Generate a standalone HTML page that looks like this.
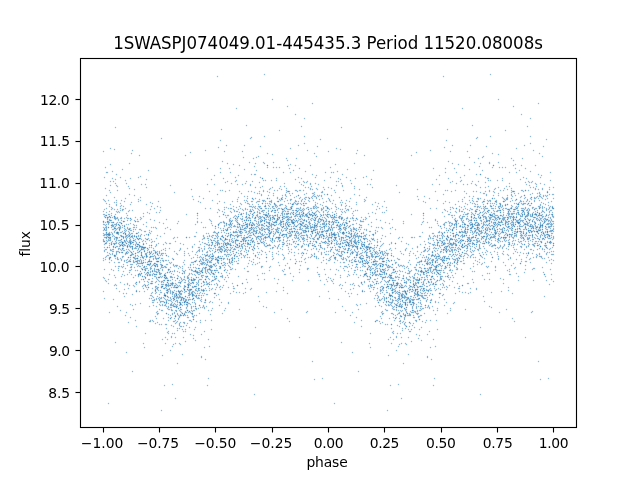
<!DOCTYPE html>
<html lang="en"><head><meta charset="utf-8"><title>1SWASPJ074049.01-445435.3 Period 11520.08008s</title>
<style>html,body{margin:0;padding:0;background:#fff;width:640px;height:480px;overflow:hidden}svg{display:block}text{font-family:"DejaVu Sans","Liberation Sans",sans-serif;fill:#000}.t{font-size:13.889px}.h{font-size:16.667px}</style></head><body>
<svg width="640" height="480" viewBox="0 0 640 480">
<rect width="640" height="480" fill="#fff"/>
<g fill="none" stroke="#1f77b4" stroke-opacity=".5" stroke-width="1.389" stroke-linecap="round">
<path d="M443.5 76.5h0m-171 23h0m241 7h0m-209 12h0m37 9h0m106 2h0m58 1h0m-254 7h0m-31 3h0m84 3h0m166 2h0m73 1h0m-338 4h0m225 0h0m-327 1h0m225 0h0m88 1h0m-102 1h0m225 0h0m-267 1h0m-87 1h0m73 1h0m225 0h0m-227 1h0m192 4h0m-319 2h0m135 0h0m90 0h0m135 0h0m-194 2h0m15 0h0m225 0h0m-259 2h0m-47 1h0m60 0h0m10 0h0m155 0h0m-332 1h0m225 0h0m-241 3h0m225 0h0m125 0h0m60 0h0m-204 2h0m30 0h0m4 3h0m-221 3h0m140 0h0m85 0h0m140 0h0m60 0h0m-437 1h0m190 0h0m35 0h0m140 0h0m50 0h0m-222 1h0m225 0h0m-247 1h0m225 0h0m-302 1h0m30 0h0m5 0h0m125 0h0m65 0h0m35 0h0m-357 1h0m60 0h0m80 0h0m-122 1h0m360 0h0m-342 1h0m-17 1h0m150 0h0m75 0h0m150 0h0m-192 1h0m5 0h0m100 0h0m90 0h0m35 0h0m-322 1h0m75 0h0m5 0h0m145 0h0m10 0h0m45 0h0m25 0h0m-277 1h0m15 0h0m25 0h0m185 0h0m20 0h0m20 0h0m10 0h0m-237 1h0m35 0h0m190 0h0m-252 1h0m30 0h0m195 0h0m30 0h0m25 0h0m-322 1h0m110 0h0m225 0h0m-267 1h0m5 0h0m225 0h0m30 0h0m-227 1h0m155 0h0m70 0h0m-237 1h0m5 0h0m5 0h0m50 0h0m165 0h0m5 0h0m5 0h0m-272 1h0m30 0h0m5 0h0m5 0h0m120 0h0m65 0h0m30 0h0m10 0h0m-297 1h0m45 0h0m20 0h0m160 0h0m45 0h0m20 0h0m-387 1h0m140 0h0m10 0h0m5 0h0m70 0h0m125 0h0m15 0h0m10 0h0m5 0h0m-382 1h0m20 0h0m40 0h0m60 0h0m5 0h0m15 0h0m20 0h0m125 0h0m35 0h0m15 0h0m10 0h0m5 0h0m15 0h0m20 0h0m-407 1h0m15 0h0m125 0h0m15 0h0m85 0h0m140 0h0m45 0h0m-272 1h0m5 0h0m200 0h0m20 0h0m5 0h0m15 0h0m10 0h0m-272 1h0m30 0h0m10 0h0m5 0h0m75 0h0m95 0h0m10 0h0m30 0h0m10 0h0m5 0h0m5 0h0m-262 1h0m10 0h0m5 0h0m5 0h0m30 0h0m175 0h0m10 0h0m5 0h0m25 0h0m10 0h0m-417 1h0m110 0h0m20 0h0m5 0h0m15 0h0m40 0h0m165 0h0m5 0h0m15 0h0m20 0h0m20 0h0m-427 1h0m115 0h0m10 0h0m40 0h0m15 0h0m45 0h0m50 0h0m75 0h0m40 0h0m10 0h0m-357 1h0m120 0h0m5 0h0m5 0h0m30 0h0m65 0h0m120 0h0m40 0h0m10 0h0m-432 1h0m5 0h0m120 0h0m5 0h0m5 0h0m25 0h0m5 0h0m5 0h0m15 0h0m20 0h0m20 0h0m5 0h0m120 0h0m5 0h0m5 0h0m25 0h0m5 0h0m20 0h0m-407 1h0m40 0h0m90 0h0m25 0h0m20 0h0m5 0h0m25 0h0m30 0h0m90 0h0m30 0h0m25 0h0m50 0h0m-447 1h0m15 0h0m10 0h0m140 0h0m15 0h0m5 0h0m30 0h0m5 0h0m5 0h0m25 0h0m130 0h0m25 0h0m5 0h0m10 0h0m5 0h0m15 0h0m-437 1h0m50 0h0m75 0h0m15 0h0m20 0h0m25 0h0m5 0h0m5 0h0m155 0h0m15 0h0m20 0h0m50 0h0m-392 1h0m110 0h0m25 0h0m15 0h0m10 0h0m5 0h0m165 0h0m5 0h0m10 0h0m15 0h0m5 0h0m10 0h0m15 0h0m-287 1h0m5 0h0m20 0h0m5 0h0m5 0h0m10 0h0m5 0h0m25 0h0m140 0h0m10 0h0m15 0h0m20 0h0m10 0h0m5 0h0m5 0h0m10 0h0m10 0h0m-447 1h0m120 0h0m10 0h0m30 0h0m5 0h0m5 0h0m5 0h0m15 0h0m5 0h0m5 0h0m5 0h0m5 0h0m15 0h0m130 0h0m30 0h0m5 0h0m5 0h0m20 0h0m10 0h0m10 0h0m-397 1h0m95 0h0m35 0h0m10 0h0m5 0h0m175 0h0m15 0h0m5 0h0m5 0h0m5 0h0m5 0h0m15 0h0m30 0h0m10 0h0m-432 1h0m5 0h0m100 0h0m20 0h0m15 0h0m5 0h0m20 0h0m5 0h0m25 0h0m15 0h0m5 0h0m5 0h0m20 0h0m110 0h0m15 0h0m5 0h0m25 0h0m-402 1h0m10 0h0m125 0h0m5 0h0m5 0h0m5 0h0m10 0h0m5 0h0m5 0h0m35 0h0m20 0h0m140 0h0m10 0h0m10 0h0m5 0h0m20 0h0m20 0h0m-437 1h0m30 0h0m105 0h0m30 0h0m5 0h0m5 0h0m5 0h0m15 0h0m20 0h0m10 0h0m25 0h0m35 0h0m100 0h0m5 0h0m5 0h0m5 0h0m40 0h0m-437 1h0m20 0h0m80 0h0m20 0h0m5 0h0m15 0h0m5 0h0m5 0h0m10 0h0m10 0h0m35 0h0m20 0h0m20 0h0m5 0h0m20 0h0m55 0h0m20 0h0m15 0h0m10 0h0m25 0h0m15 0h0m-417 1h0m5 0h0m15 0h0m15 0h0m40 0h0m45 0h0m35 0h0m25 0h0m35 0h0m5 0h0m5 0h0m35 0h0m40 0h0m20 0h0m25 0h0m20 0h0m30 0h0m10 0h0m40 0h0m5 0h0m-442 1h0m35 0h0m55 0h0m20 0h0m45 0h0m10 0h0m5 0h0m5 0h0m5 0h0m40 0h0m5 0h0m10 0h0m25 0h0m75 0h0m10 0h0m15 0h0m5 0h0m15 0h0m10 0h0m5 0h0m5 0h0m-292 1h0m5 0h0m25 0h0m15 0h0m5 0h0m10 0h0m20 0h0m10 0h0m15 0h0m65 0h0m55 0h0m5 0h0m15 0h0m5 0h0m20 0h0m30 0h0m5 0h0m25 0h0m-437 1h0m125 0h0m10 0h0m10 0h0m5 0h0m10 0h0m15 0h0m25 0h0m5 0h0m5 0h0m10 0h0m5 0h0m5 0h0m10 0h0m100 0h0m10 0h0m10 0h0m5 0h0m25 0h0m5 0h0m5 0h0m15 0h0m15 0h0m5 0h0m5 0h0m-447 1h0m165 0h0m5 0h0m5 0h0m5 0h0m25 0h0m5 0h0m10 0h0m25 0h0m10 0h0m100 0h0m10 0h0m5 0h0m10 0h0m10 0h0m5 0h0m5 0h0m25 0h0m5 0h0m5 0h0m-427 1h0m120 0h0m35 0h0m15 0h0m5 0h0m5 0h0m10 0h0m5 0h0m15 0h0m5 0h0m10 0h0m130 0h0m5 0h0m20 0h0m15 0h0m25 0h0m15 0h0m5 0h0m-447 1h0m5 0h0m25 0h0m15 0h0m80 0h0m20 0h0m10 0h0m10 0h0m15 0h0m20 0h0m5 0h0m5 0h0m5 0h0m10 0h0m5 0h0m25 0h0m15 0h0m5 0h0m50 0h0m25 0h0m15 0h0m10 0h0m5 0h0m10 0h0m15 0h0m25 0h0m10 0h0m-442 1h0m10 0h0m5 0h0m5 0h0m5 0h0m115 0h0m5 0h0m5 0h0m5 0h0m10 0h0m10 0h0m5 0h0m10 0h0m20 0h0m10 0h0m5 0h0m10 0h0m15 0h0m95 0h0m25 0h0m5 0h0m10 0h0m5 0h0m5 0h0m5 0h0m5 0h0m10 0h0m20 0h0m-427 1h0m115 0h0m15 0h0m20 0h0m5 0h0m5 0h0m5 0h0m20 0h0m20 0h0m5 0h0m10 0h0m120 0h0m15 0h0m10 0h0m10 0h0m5 0h0m5 0h0m5 0h0m5 0h0m10 0h0m25 0h0m5 0h0m-442 1h0m10 0h0m15 0h0m115 0h0m5 0h0m35 0h0m20 0h0m10 0h0m15 0h0m10 0h0m5 0h0m5 0h0m25 0h0m95 0h0m5 0h0m20 0h0m35 0h0m10 0h0m10 0h0m-422 1h0m5 0h0m100 0h0m15 0h0m5 0h0m20 0h0m30 0h0m5 0h0m15 0h0m25 0h0m5 0h0m155 0h0m15 0h0m5 0h0m25 0h0m-447 1h0m5 0h0m5 0h0m5 0h0m75 0h0m25 0h0m15 0h0m10 0h0m5 0h0m5 0h0m15 0h0m25 0h0m5 0h0m20 0h0m10 0h0m15 0h0m95 0h0m15 0h0m20 0h0m5 0h0m10 0h0m5 0h0m5 0h0m15 0h0m5 0h0m5 0h0m5 0h0m10 0h0m-432 1h0m20 0h0m35 0h0m105 0h0m20 0h0m40 0h0m5 0h0m10 0h0m5 0h0m5 0h0m130 0h0m30 0h0m-407 1h0m5 0h0m105 0h0m20 0h0m10 0h0m15 0h0m5 0h0m15 0h0m40 0h0m10 0h0m40 0h0m70 0h0m15 0h0m5 0h0m10 0h0m20 0h0m15 0h0m5 0h0m20 0h0m15 0h0m-427 1h0m20 0h0m75 0h0m10 0h0m5 0h0m5 0h0m5 0h0m10 0h0m40 0h0m5 0h0m20 0h0m5 0h0m15 0h0m10 0h0m10 0h0m10 0h0m85 0h0m5 0h0m20 0h0m40 0h0m5 0h0m10 0h0m10 0h0m5 0h0m-422 1h0m5 0h0m10 0h0m65 0h0m15 0h0m20 0h0m10 0h0m10 0h0m10 0h0m5 0h0m50 0h0m15 0h0m10 0h0m5 0h0m5 0h0m5 0h0m70 0h0m20 0h0m10 0h0m10 0h0m10 0h0m10 0h0m60 0h0m-447 1h0m10 0h0m20 0h0m50 0h0m55 0h0m5 0h0m10 0h0m10 0h0m10 0h0m20 0h0m5 0h0m20 0h0m5 0h0m5 0h0m5 0h0m5 0h0m20 0h0m50 0h0m60 0h0m15 0h0m5 0h0m10 0h0m5 0h0m45 0h0m-442 1h0m5 0h0m15 0h0m10 0h0m65 0h0m10 0h0m20 0h0m10 0h0m35 0h0m25 0h0m35 0h0m10 0h0m5 0h0m10 0h0m75 0h0m20 0h0m10 0h0m60 0h0m20 0h0m-402 1h0m55 0h0m25 0h0m15 0h0m30 0h0m20 0h0m10 0h0m5 0h0m10 0h0m10 0h0m20 0h0m20 0h0m5 0h0m5 0h0m70 0h0m5 0h0m15 0h0m30 0h0m30 0h0m5 0h0m10 0h0m10 0h0m-442 1h0m10 0h0m10 0h0m105 0h0m10 0h0m5 0h0m10 0h0m5 0h0m5 0h0m10 0h0m65 0h0m5 0h0m5 0h0m5 0h0m80 0h0m15 0h0m5 0h0m10 0h0m15 0h0m10 0h0m20 0h0m15 0h0m-427 1h0m120 0h0m10 0h0m10 0h0m10 0h0m10 0h0m30 0h0m10 0h0m10 0h0m15 0h0m25 0h0m125 0h0m5 0h0m5 0h0m30 0h0m10 0h0m10 0h0m-432 1h0m5 0h0m5 0h0m20 0h0m15 0h0m60 0h0m5 0h0m45 0h0m55 0h0m10 0h0m5 0h0m5 0h0m15 0h0m5 0h0m35 0h0m85 0h0m10 0h0m55 0h0m10 0h0m-442 1h0m5 0h0m55 0h0m35 0h0m15 0h0m20 0h0m20 0h0m25 0h0m5 0h0m20 0h0m10 0h0m15 0h0m35 0h0m60 0h0m15 0h0m10 0h0m10 0h0m5 0h0m15 0h0m25 0h0m5 0h0m20 0h0m-397 1h0m70 0h0m5 0h0m5 0h0m10 0h0m10 0h0m5 0h0m5 0h0m35 0h0m15 0h0m40 0h0m25 0h0m20 0h0m50 0h0m5 0h0m15 0h0m10 0h0m5 0h0m5 0h0m45 0h0m5 0h0m10 0h0m-412 1h0m5 0h0m10 0h0m80 0h0m15 0h0m40 0h0m50 0h0m30 0h0m85 0h0m20 0h0m10 0h0m30 0h0m5 0h0m45 0h0m-432 1h0m10 0h0m130 0h0m25 0h0m30 0h0m30 0h0m15 0h0m15 0h0m115 0h0m20 0h0m5 0h0m20 0h0m-387 1h0m10 0h0m75 0h0m10 0h0m65 0h0m20 0h0m35 0h0m10 0h0m5 0h0m5 0h0m70 0h0m5 0h0m70 0h0m5 0h0m20 0h0m-427 1h0m15 0h0m10 0h0m25 0h0m35 0h0m20 0h0m10 0h0m15 0h0m5 0h0m70 0h0m25 0h0m20 0h0m10 0h0m50 0h0m30 0h0m20 0h0m5 0h0m55 0h0m-427 1h0m10 0h0m10 0h0m10 0h0m75 0h0m5 0h0m30 0h0m30 0h0m55 0h0m20 0h0m10 0h0m85 0h0m25 0h0m60 0h0m5 0h0m-432 1h0m30 0h0m25 0h0m60 0h0m5 0h0m100 0h0m20 0h0m20 0h0m35 0h0m20 0h0m20 0h0m-332 1h0m5 0h0m15 0h0m100 0h0m15 0h0m30 0h0m40 0h0m10 0h0m10 0h0m5 0h0m15 0h0m65 0h0m35 0h0m15 0h0m30 0h0m50 0h0m-437 1h0m5 0h0m5 0h0m5 0h0m10 0h0m10 0h0m5 0h0m40 0h0m10 0h0m15 0h0m15 0h0m10 0h0m45 0h0m30 0h0m20 0h0m10 0h0m5 0h0m10 0h0m55 0h0m25 0h0m25 0h0m-362 1h0m50 0h0m25 0h0m130 0h0m20 0h0m50 0h0m25 0h0m50 0h0m5 0h0m15 0h0m60 0h0m-427 1h0m20 0h0m20 0h0m5 0h0m20 0h0m25 0h0m5 0h0m5 0h0m15 0h0m20 0h0m25 0h0m10 0h0m60 0h0m15 0h0m15 0h0m5 0h0m5 0h0m5 0h0m45 0h0m25 0h0m10 0h0m5 0h0m25 0h0m10 0h0m45 0h0m-437 1h0m15 0h0m5 0h0m25 0h0m45 0h0m25 0h0m15 0h0m10 0h0m85 0h0m45 0h0m30 0h0m20 0h0m25 0h0m20 0h0m-357 1h0m15 0h0m15 0h0m15 0h0m40 0h0m5 0h0m5 0h0m10 0h0m135 0h0m5 0h0m5 0h0m5 0h0m15 0h0m45 0h0m5 0h0m5 0h0m15 0h0m35 0h0m-352 1h0m55 0h0m40 0h0m25 0h0m35 0h0m15 0h0m40 0h0m10 0h0m60 0h0m10 0h0m90 0h0m10 0h0m5 0h0m-432 1h0m25 0h0m75 0h0m10 0h0m5 0h0m10 0h0m25 0h0m25 0h0m45 0h0m5 0h0m35 0h0m10 0h0m60 0h0m5 0h0m5 0h0m10 0h0m25 0h0m60 0h0m-427 1h0m10 0h0m75 0h0m5 0h0m5 0h0m5 0h0m10 0h0m5 0h0m40 0h0m70 0h0m10 0h0m30 0h0m45 0h0m5 0h0m5 0h0m20 0h0m-297 1h0m5 0h0m35 0h0m5 0h0m170 0h0m50 0h0m30 0h0m20 0h0m-347 1h0m5 0h0m15 0h0m10 0h0m5 0h0m195 0h0m15 0h0m10 0h0m-257 1h0m15 0h0m30 0h0m20 0h0m20 0h0m20 0h0m90 0h0m30 0h0m15 0h0m5 0h0m15 0h0m10 0h0m150 0h0m-407 1h0m15 0h0m210 0h0m15 0h0m65 0h0m20 0h0m-332 1h0m15 0h0m10 0h0m10 0h0m30 0h0m5 0h0m5 0h0m25 0h0m20 0h0m105 0h0m5 0h0m10 0h0m10 0h0m10 0h0m30 0h0m5 0h0m5 0h0m25 0h0m20 0h0m-322 1h0m20 0h0m15 0h0m20 0h0m15 0h0m60 0h0m15 0h0m80 0h0m20 0h0m40 0h0m10 0h0m55 0h0m20 0h0m-407 1h0m5 0h0m315 0h0m35 0h0m15 0h0m-357 1h0m30 0h0m5 0h0m40 0h0m5 0h0m50 0h0m130 0h0m5 0h0m10 0h0m25 0h0m5 0h0m10 0h0m10 0h0m-302 1h0m45 0h0m5 0h0m5 0h0m10 0h0m25 0h0m45 0h0m90 0h0m25 0h0m20 0h0m5 0h0m15 0h0m70 0h0m20 0h0m-392 1h0m15 0h0m5 0h0m40 0h0m5 0h0m100 0h0m50 0h0m10 0h0m15 0h0m75 0h0m75 0h0m-402 1h0m5 0h0m10 0h0m40 0h0m10 0h0m10 0h0m5 0h0m5 0h0m140 0h0m5 0h0m10 0h0m10 0h0m5 0h0m40 0h0m5 0h0m10 0h0m10 0h0m45 0h0m-372 1h0m35 0h0m25 0h0m10 0h0m55 0h0m35 0h0m65 0h0m70 0h0m-262 1h0m40 0h0m15 0h0m15 0h0m195 0h0m10 0h0m20 0h0m-312 1h0m20 0h0m25 0h0m5 0h0m20 0h0m20 0h0m35 0h0m110 0h0m5 0h0m5 0h0m25 0h0m25 0h0m55 0h0m-367 1h0m5 0h0m20 0h0m5 0h0m40 0h0m185 0h0m5 0h0m-247 1h0m5 0h0m10 0h0m15 0h0m30 0h0m145 0h0m20 0h0m15 0h0m15 0h0m30 0h0m-282 1h0m40 0h0m60 0h0m55 0h0m70 0h0m25 0h0m15 0h0m60 0h0m55 0h0m-362 1h0m5 0h0m5 0h0m5 0h0m20 0h0m5 0h0m10 0h0m185 0h0m5 0h0m10 0h0m15 0h0m10 0h0m-327 1h0m170 0h0m140 0h0m5 0h0m-262 1h0m15 0h0m195 0h0m15 0h0m25 0h0m10 0h0m10 0h0m45 0h0m-367 1h0m65 0h0m5 0h0m10 0h0m135 0h0m75 0h0m15 0h0m-222 1h0m10 0h0m5 0h0m185 0h0m25 0h0m10 0h0m5 0h0m125 0h0m-417 1h0m25 0h0m35 0h0m10 0h0m155 0h0m25 0h0m20 0h0m15 0h0m10 0h0m-304 2h0m35 0h0m10 0h0m15 0h0m20 0h0m10 0h0m135 0h0m10 0h0m25 0h0m10 0h0m25 0h0m10 0h0m-287 1h0m20 0h0m5 0h0m5 0h0m15 0h0m180 0h0m25 0h0m10 0h0m-237 1h0m10 0h0m10 0h0m20 0h0m25 0h0m135 0h0m20 0h0m25 0h0m-267 1h0m15 0h0m10 0h0m5 0h0m40 0h0m155 0h0m15 0h0m5 0h0m5 0h0m5 0h0m-237 1h0m5 0h0m30 0h0m10 0h0m25 0h0m135 0h0m55 0h0m10 0h0m25 0h0m-312 1h0m10 0h0m10 0h0m20 0h0m195 0h0m10 0h0m20 0h0m5 0h0m-262 1h0m5 0h0m10 0h0m20 0h0m5 0h0m185 0h0m15 0h0m20 0h0m5 0h0m10 0h0m5 0h0m-332 1h0m65 0h0m10 0h0m15 0h0m10 0h0m30 0h0m95 0h0m75 0h0m15 0h0m5 0h0m5 0h0m-272 1h0m5 0h0m5 0h0m25 0h0m45 0h0m30 0h0m120 0h0m10 0h0m95 0h0m-327 1h0m15 0h0m10 0h0m10 0h0m5 0h0m10 0h0m175 0h0m25 0h0m10 0h0m15 0h0m-307 1h0m40 0h0m20 0h0m15 0h0m150 0h0m45 0h0m15 0h0m15 0h0m-282 1h0m15 0h0m210 0h0m15 0h0m30 0h0m5 0h0m-167 1h0m120 0h0m5 0h0m15 0h0m85 0h0m-322 1h0m15 0h0m5 0h0m15 0h0m5 0h0m185 0h0m20 0h0m-302 1h0m45 0h0m15 0h0m20 0h0m15 0h0m130 0h0m45 0h0m10 0h0m15 0h0m5 0h0m15 0h0m5 0h0m-257 1h0m25 0h0m200 0h0m5 0h0m10 0h0m5 0h0m5 0h0m10 0h0m-257 1h0m10 0h0m5 0h0m15 0h0m5 0h0m175 0h0m15 0h0m10 0h0m5 0h0m10 0h0m10 0h0m-267 1h0m225 0h0m-222 1h0m20 0h0m35 0h0m165 0h0m5 0h0m55 0h0m-272 1h0m15 0h0m205 0h0m20 0h0m-252 1h0m15 0h0m10 0h0m215 0h0m5 0h0m-247 1h0m5 0h0m5 0h0m235 0h0m20 0h0m-257 1h0m5 0h0m20 0h0m10 0h0m60 0h0m135 0h0m20 0h0m10 0h0m-257 1h0m5 0h0m10 0h0m5 0h0m75 0h0m130 0h0m5 0h0m5 0h0m10 0h0m75 0h0m-287 1h0m200 0h0m25 0h0m-309 2h0m55 0h0m170 0h0m55 0h0m5 0h0m15 0h0m30 0h0m-324 2h0m30 0h0m25 0h0m5 0h0m120 0h0m75 0h0m25 0h0m5 0h0m120 0h0m-357 1h0m10 0h0m15 0h0m200 0h0m10 0h0m15 0h0m-267 1h0m15 0h0m5 0h0m15 0h0m190 0h0m15 0h0m20 0h0m-292 1h0m45 0h0m5 0h0m5 0h0m5 0h0m165 0h0m45 0h0m5 0h0m5 0h0m5 0h0m10 0h0m-227 1h0m225 0h0m-247 1h0m185 0h0m40 0h0m-222 1h0m215 0h0m10 0h0m5 0h0m-269 2h0m15 0h0m25 0h0m15 0h0m10 0h0m5 0h0m195 0h0m15 0h0m15 0h0m-277 1h0m20 0h0m230 0h0m-227 1h0m3 1h0m5 0h0m220 0h0m-17 1h0m18 1h0m-232 1h0m10 0h0m238 1h0m-242 1h0m3 1h0m255 0h0m-269 2h0m15 0h0m210 0h0m-219 2h0m253 1h0m-256 3h0m225 0h0m5 0h0m-239 2h0m5 0h0m28 1h0m146 2h0m-162 1h0m190 0h0m29 3h0m-228 4h0m-44 2h0m56 2h0m19 3h0m337 4h0m-180 10h0m76 7h0m-262 6h0m218 1h0m-56 18h0"/>
<path d="M498.5 99.5h0m32 19h0m-284 7h0m18 11h0m40 0h0m173 1h0m-227 1h0m196 2h0m84 3h0m-304 2h0m-116 3h0m180 0h0m-66 3h0m274 3h0m-87 1h0m71 2h0m-227 6h0m225 0h0m-247 1h0m225 0h0m63 1h0m-267 1h0m225 0h0m-212 1h0m225 0h0m10 0h0m-282 1h0m225 0h0m70 0h0m10 0h0m-269 2h0m-149 2h0m431 2h0m-222 1h0m225 0h0m-411 3h0m225 0h0m-119 2h0m35 0h0m5 0h0m185 0h0m-346 3h0m130 0h0m65 0h0m5 0h0m220 0h0m5 0h0m-222 1h0m145 0h0m-347 1h0m220 0h0m60 0h0m80 0h0m-192 1h0m70 0h0m155 0h0m-237 1h0m100 0h0m-267 1h0m165 0h0m40 0h0m185 0h0m40 0h0m3 1h0m-252 1h0m10 0h0m215 0h0m10 0h0m-312 1h0m30 0h0m20 0h0m30 0h0m175 0h0m25 0h0m25 0h0m-192 1h0m225 0h0m-104 2h0m110 0h0m-447 1h0m155 0h0m60 0h0m10 0h0m155 0h0m25 0h0m-312 1h0m45 0h0m70 0h0m110 0h0m45 0h0m70 0h0m-262 1h0m5 0h0m220 0h0m5 0h0m-382 1h0m130 0h0m30 0h0m65 0h0m130 0h0m50 0h0m5 0h0m-432 1h0m35 0h0m55 0h0m60 0h0m165 0h0m60 0h0m-362 1h0m5 0h0m125 0h0m25 0h0m30 0h0m40 0h0m5 0h0m150 0h0m-372 1h0m95 0h0m40 0h0m10 0h0m15 0h0m20 0h0m5 0h0m40 0h0m15 0h0m20 0h0m100 0h0m20 0h0m25 0h0m5 0h0m-192 1h0m140 0h0m-362 1h0m120 0h0m25 0h0m25 0h0m5 0h0m5 0h0m5 0h0m40 0h0m120 0h0m25 0h0m10 0h0m25 0h0m-267 1h0m35 0h0m190 0h0m35 0h0m5 0h0m-407 1h0m5 0h0m155 0h0m65 0h0m5 0h0m165 0h0m-402 1h0m130 0h0m10 0h0m10 0h0m5 0h0m5 0h0m45 0h0m35 0h0m110 0h0m5 0h0m10 0h0m25 0h0m40 0h0m-287 1h0m20 0h0m35 0h0m10 0h0m10 0h0m125 0h0m25 0h0m40 0h0m15 0h0m10 0h0m10 0h0m-432 1h0m5 0h0m80 0h0m5 0h0m20 0h0m10 0h0m5 0h0m10 0h0m5 0h0m5 0h0m5 0h0m30 0h0m10 0h0m35 0h0m85 0h0m35 0h0m5 0h0m15 0h0m10 0h0m10 0h0m5 0h0m15 0h0m10 0h0m-412 1h0m95 0h0m15 0h0m5 0h0m20 0h0m25 0h0m5 0h0m20 0h0m40 0h0m115 0h0m45 0h0m5 0h0m35 0h0m-252 1h0m5 0h0m10 0h0m10 0h0m5 0h0m20 0h0m40 0h0m135 0h0m5 0h0m20 0h0m5 0h0m-442 1h0m125 0h0m15 0h0m60 0h0m35 0h0m115 0h0m35 0h0m20 0h0m35 0h0m-432 1h0m30 0h0m70 0h0m40 0h0m25 0h0m30 0h0m15 0h0m5 0h0m10 0h0m30 0h0m10 0h0m60 0h0m40 0h0m35 0h0m5 0h0m5 0h0m10 0h0m15 0h0m-302 1h0m10 0h0m30 0h0m5 0h0m80 0h0m100 0h0m60 0h0m-432 1h0m5 0h0m115 0h0m15 0h0m10 0h0m15 0h0m5 0h0m25 0h0m5 0h0m25 0h0m5 0h0m120 0h0m15 0h0m10 0h0m5 0h0m5 0h0m20 0h0m5 0h0m10 0h0m10 0h0m-422 1h0m5 0h0m145 0h0m10 0h0m30 0h0m10 0h0m15 0h0m5 0h0m10 0h0m115 0h0m40 0h0m5 0h0m5 0h0m5 0h0m20 0h0m10 0h0m5 0h0m5 0h0m-442 1h0m5 0h0m5 0h0m105 0h0m15 0h0m25 0h0m10 0h0m15 0h0m10 0h0m5 0h0m5 0h0m30 0h0m5 0h0m30 0h0m75 0h0m15 0h0m5 0h0m20 0h0m10 0h0m15 0h0m-402 1h0m5 0h0m5 0h0m120 0h0m15 0h0m20 0h0m10 0h0m5 0h0m35 0h0m10 0h0m10 0h0m5 0h0m5 0h0m100 0h0m10 0h0m35 0h0m10 0h0m5 0h0m30 0h0m-427 1h0m5 0h0m10 0h0m100 0h0m5 0h0m5 0h0m10 0h0m5 0h0m5 0h0m10 0h0m25 0h0m20 0h0m10 0h0m25 0h0m105 0h0m5 0h0m15 0h0m5 0h0m5 0h0m5 0h0m5 0h0m5 0h0m10 0h0m10 0h0m20 0h0m5 0h0m5 0h0m-432 1h0m140 0h0m10 0h0m10 0h0m10 0h0m5 0h0m15 0h0m5 0h0m5 0h0m45 0h0m105 0h0m15 0h0m10 0h0m10 0h0m10 0h0m15 0h0m5 0h0m5 0h0m5 0h0m-432 1h0m10 0h0m125 0h0m30 0h0m10 0h0m5 0h0m5 0h0m10 0h0m5 0h0m10 0h0m5 0h0m10 0h0m10 0h0m115 0h0m10 0h0m5 0h0m5 0h0m5 0h0m10 0h0m5 0h0m10 0h0m5 0h0m5 0h0m20 0h0m5 0h0m5 0h0m-427 1h0m105 0h0m35 0h0m45 0h0m20 0h0m5 0h0m15 0h0m135 0h0m5 0h0m20 0h0m25 0h0m10 0h0m-437 1h0m5 0h0m5 0h0m80 0h0m40 0h0m15 0h0m15 0h0m25 0h0m5 0h0m5 0h0m120 0h0m5 0h0m35 0h0m15 0h0m25 0h0m5 0h0m5 0h0m5 0h0m10 0h0m-397 1h0m100 0h0m50 0h0m5 0h0m15 0h0m10 0h0m5 0h0m140 0h0m20 0h0m20 0h0m10 0h0m5 0h0m15 0h0m10 0h0m5 0h0m-437 1h0m5 0h0m10 0h0m10 0h0m5 0h0m10 0h0m75 0h0m10 0h0m25 0h0m20 0h0m5 0h0m5 0h0m15 0h0m25 0h0m10 0h0m20 0h0m15 0h0m75 0h0m35 0h0m5 0h0m5 0h0m10 0h0m5 0h0m5 0h0m5 0h0m25 0h0m10 0h0m-437 1h0m5 0h0m20 0h0m90 0h0m5 0h0m10 0h0m10 0h0m10 0h0m5 0h0m5 0h0m30 0h0m15 0h0m15 0h0m5 0h0m5 0h0m20 0h0m90 0h0m5 0h0m20 0h0m15 0h0m20 0h0m30 0h0m10 0h0m-427 1h0m100 0h0m10 0h0m5 0h0m25 0h0m5 0h0m20 0h0m15 0h0m10 0h0m5 0h0m5 0h0m15 0h0m10 0h0m110 0h0m5 0h0m30 0h0m15 0h0m5 0h0m5 0h0m10 0h0m20 0h0m-427 1h0m5 0h0m40 0h0m70 0h0m5 0h0m5 0h0m15 0h0m15 0h0m5 0h0m25 0h0m5 0h0m10 0h0m70 0h0m70 0h0m5 0h0m5 0h0m5 0h0m30 0h0m25 0h0m5 0h0m5 0h0m-427 1h0m5 0h0m10 0h0m35 0h0m50 0h0m5 0h0m20 0h0m5 0h0m5 0h0m35 0h0m15 0h0m5 0h0m5 0h0m10 0h0m20 0h0m5 0h0m5 0h0m40 0h0m75 0h0m5 0h0m5 0h0m10 0h0m25 0h0m15 0h0m10 0h0m10 0h0m5 0h0m-437 1h0m15 0h0m5 0h0m110 0h0m10 0h0m15 0h0m45 0h0m15 0h0m10 0h0m15 0h0m5 0h0m110 0h0m10 0h0m45 0h0m15 0h0m15 0h0m-447 1h0m20 0h0m5 0h0m10 0h0m80 0h0m5 0h0m30 0h0m5 0h0m15 0h0m5 0h0m5 0h0m40 0h0m25 0h0m5 0h0m10 0h0m80 0h0m25 0h0m10 0h0m5 0h0m20 0h0m5 0h0m40 0h0m-437 1h0m30 0h0m70 0h0m25 0h0m10 0h0m5 0h0m5 0h0m5 0h0m5 0h0m20 0h0m5 0h0m25 0h0m20 0h0m20 0h0m10 0h0m70 0h0m20 0h0m5 0h0m10 0h0m5 0h0m10 0h0m10 0h0m15 0h0m5 0h0m15 0h0m15 0h0m-432 1h0m120 0h0m5 0h0m10 0h0m25 0h0m10 0h0m5 0h0m20 0h0m5 0h0m5 0h0m15 0h0m5 0h0m80 0h0m25 0h0m15 0h0m5 0h0m5 0h0m5 0h0m5 0h0m20 0h0m10 0h0m5 0h0m20 0h0m10 0h0m-422 1h0m25 0h0m90 0h0m10 0h0m5 0h0m5 0h0m10 0h0m5 0h0m5 0h0m10 0h0m5 0h0m5 0h0m75 0h0m15 0h0m75 0h0m15 0h0m15 0h0m5 0h0m15 0h0m5 0h0m-412 1h0m10 0h0m10 0h0m20 0h0m105 0h0m30 0h0m35 0h0m15 0h0m5 0h0m5 0h0m30 0h0m105 0h0m10 0h0m5 0h0m55 0h0m-442 1h0m15 0h0m5 0h0m110 0h0m5 0h0m10 0h0m30 0h0m5 0h0m5 0h0m5 0h0m5 0h0m5 0h0m5 0h0m5 0h0m10 0h0m5 0h0m15 0h0m5 0h0m90 0h0m20 0h0m5 0h0m10 0h0m35 0h0m5 0h0m5 0h0m5 0h0m10 0h0m15 0h0m-437 1h0m15 0h0m5 0h0m60 0h0m15 0h0m25 0h0m25 0h0m10 0h0m15 0h0m5 0h0m30 0h0m5 0h0m15 0h0m20 0h0m60 0h0m10 0h0m15 0h0m20 0h0m20 0h0m10 0h0m5 0h0m10 0h0m5 0h0m30 0h0m5 0h0m-432 1h0m10 0h0m5 0h0m45 0h0m35 0h0m5 0h0m20 0h0m10 0h0m10 0h0m10 0h0m10 0h0m10 0h0m20 0h0m35 0h0m60 0h0m10 0h0m25 0h0m5 0h0m20 0h0m5 0h0m5 0h0m10 0h0m10 0h0m20 0h0m10 0h0m5 0h0m5 0h0m15 0h0m-437 1h0m30 0h0m5 0h0m70 0h0m5 0h0m5 0h0m20 0h0m20 0h0m5 0h0m5 0h0m20 0h0m15 0h0m15 0h0m10 0h0m30 0h0m65 0h0m10 0h0m10 0h0m40 0h0m5 0h0m5 0h0m5 0h0m30 0h0m15 0h0m-447 1h0m5 0h0m30 0h0m105 0h0m20 0h0m15 0h0m5 0h0m20 0h0m10 0h0m5 0h0m10 0h0m5 0h0m40 0h0m55 0h0m70 0h0m20 0h0m10 0h0m5 0h0m-427 1h0m10 0h0m10 0h0m85 0h0m25 0h0m10 0h0m5 0h0m80 0h0m5 0h0m5 0h0m10 0h0m120 0h0m5 0h0m15 0h0m15 0h0m-402 1h0m20 0h0m5 0h0m25 0h0m45 0h0m30 0h0m45 0h0m5 0h0m15 0h0m35 0h0m25 0h0m70 0h0m25 0h0m10 0h0m10 0h0m10 0h0m-357 1h0m10 0h0m70 0h0m10 0h0m5 0h0m10 0h0m5 0h0m15 0h0m5 0h0m10 0h0m10 0h0m10 0h0m40 0h0m20 0h0m5 0h0m15 0h0m15 0h0m60 0h0m5 0h0m30 0h0m5 0h0m70 0h0m-442 1h0m10 0h0m15 0h0m40 0h0m10 0h0m25 0h0m10 0h0m10 0h0m5 0h0m5 0h0m10 0h0m50 0h0m15 0h0m10 0h0m5 0h0m15 0h0m15 0h0m40 0h0m35 0h0m15 0h0m5 0h0m5 0h0m5 0h0m10 0h0m65 0h0m10 0h0m5 0h0m-427 1h0m5 0h0m5 0h0m5 0h0m5 0h0m20 0h0m20 0h0m40 0h0m5 0h0m20 0h0m35 0h0m15 0h0m10 0h0m40 0h0m5 0h0m5 0h0m5 0h0m5 0h0m40 0h0m25 0h0m10 0h0m10 0h0m15 0h0m40 0h0m25 0h0m-382 1h0m5 0h0m55 0h0m15 0h0m5 0h0m10 0h0m45 0h0m60 0h0m5 0h0m10 0h0m20 0h0m60 0h0m10 0h0m5 0h0m10 0h0m45 0h0m35 0h0m-427 1h0m10 0h0m10 0h0m65 0h0m10 0h0m5 0h0m5 0h0m15 0h0m55 0h0m20 0h0m25 0h0m5 0h0m5 0h0m15 0h0m65 0h0m10 0h0m10 0h0m15 0h0m15 0h0m55 0h0m-427 1h0m20 0h0m5 0h0m10 0h0m50 0h0m35 0h0m5 0h0m5 0h0m5 0h0m30 0h0m5 0h0m50 0h0m5 0h0m20 0h0m5 0h0m10 0h0m50 0h0m35 0h0m10 0h0m5 0h0m30 0h0m5 0h0m50 0h0m-417 1h0m30 0h0m15 0h0m30 0h0m10 0h0m20 0h0m5 0h0m25 0h0m10 0h0m65 0h0m15 0h0m30 0h0m5 0h0m40 0h0m10 0h0m5 0h0m20 0h0m5 0h0m5 0h0m15 0h0m55 0h0m-437 1h0m5 0h0m10 0h0m10 0h0m5 0h0m5 0h0m15 0h0m55 0h0m10 0h0m5 0h0m55 0h0m10 0h0m50 0h0m95 0h0m5 0h0m10 0h0m20 0h0m30 0h0m-397 1h0m10 0h0m40 0h0m80 0h0m5 0h0m15 0h0m75 0h0m30 0h0m20 0h0m5 0h0m60 0h0m5 0h0m30 0h0m-382 1h0m35 0h0m5 0h0m5 0h0m10 0h0m15 0h0m10 0h0m15 0h0m25 0h0m20 0h0m25 0h0m20 0h0m50 0h0m30 0h0m5 0h0m10 0h0m40 0h0m25 0h0m45 0h0m50 0h0m-437 1h0m15 0h0m15 0h0m10 0h0m60 0h0m20 0h0m30 0h0m15 0h0m30 0h0m45 0h0m5 0h0m5 0h0m5 0h0m5 0h0m5 0h0m5 0h0m5 0h0m50 0h0m20 0h0m10 0h0m20 0h0m15 0h0m20 0h0m30 0h0m-422 1h0m10 0h0m10 0h0m5 0h0m5 0h0m10 0h0m75 0h0m110 0h0m10 0h0m10 0h0m5 0h0m5 0h0m85 0h0m-332 1h0m95 0h0m30 0h0m20 0h0m50 0h0m10 0h0m45 0h0m20 0h0m25 0h0m10 0h0m15 0h0m20 0h0m10 0h0m20 0h0m50 0h0m-422 1h0m10 0h0m5 0h0m20 0h0m40 0h0m20 0h0m115 0h0m15 0h0m5 0h0m5 0h0m5 0h0m20 0h0m40 0h0m25 0h0m15 0h0m-357 1h0m30 0h0m65 0h0m25 0h0m10 0h0m70 0h0m35 0h0m20 0h0m65 0h0m5 0h0m5 0h0m10 0h0m85 0h0m-422 1h0m5 0h0m20 0h0m55 0h0m20 0h0m15 0h0m15 0h0m10 0h0m110 0h0m5 0h0m50 0h0m20 0h0m25 0h0m15 0h0m10 0h0m-377 1h0m5 0h0m15 0h0m20 0h0m50 0h0m15 0h0m85 0h0m30 0h0m10 0h0m15 0h0m20 0h0m50 0h0m5 0h0m75 0h0m20 0h0m-412 1h0m35 0h0m20 0h0m30 0h0m20 0h0m30 0h0m30 0h0m60 0h0m55 0h0m35 0h0m10 0h0m10 0h0m45 0h0m10 0h0m-397 1h0m10 0h0m5 0h0m15 0h0m25 0h0m30 0h0m10 0h0m5 0h0m10 0h0m125 0h0m5 0h0m15 0h0m20 0h0m5 0h0m30 0h0m10 0h0m5 0h0m10 0h0m-322 1h0m5 0h0m10 0h0m10 0h0m45 0h0m5 0h0m10 0h0m20 0h0m5 0h0m65 0h0m50 0h0m5 0h0m20 0h0m10 0h0m5 0h0m30 0h0m5 0h0m30 0h0m-327 1h0m10 0h0m10 0h0m45 0h0m10 0h0m5 0h0m10 0h0m15 0h0m120 0h0m10 0h0m55 0h0m10 0h0m5 0h0m5 0h0m20 0h0m-317 1h0m10 0h0m5 0h0m15 0h0m30 0h0m5 0h0m10 0h0m10 0h0m5 0h0m65 0h0m70 0h0m10 0h0m5 0h0m15 0h0m35 0h0m10 0h0m10 0h0m70 0h0m-397 1h0m25 0h0m5 0h0m20 0h0m20 0h0m20 0h0m135 0h0m25 0h0m5 0h0m5 0h0m15 0h0m40 0h0m-277 1h0m15 0h0m30 0h0m5 0h0m5 0h0m170 0h0m15 0h0m15 0h0m15 0h0m5 0h0m75 0h0m-392 1h0m20 0h0m5 0h0m20 0h0m10 0h0m5 0h0m30 0h0m10 0h0m10 0h0m115 0h0m5 0h0m15 0h0m5 0h0m20 0h0m10 0h0m5 0h0m30 0h0m20 0h0m-332 1h0m40 0h0m155 0h0m30 0h0m10 0h0m30 0h0m5 0h0m95 0h0m55 0h0m-417 1h0m20 0h0m5 0h0m10 0h0m45 0h0m15 0h0m150 0h0m15 0h0m40 0h0m5 0h0m5 0h0m10 0h0m25 0h0m-312 1h0m10 0h0m40 0h0m175 0h0m5 0h0m5 0h0m35 0h0m5 0h0m-242 1h0m10 0h0m10 0h0m5 0h0m195 0h0m5 0h0m5 0h0m15 0h0m5 0h0m-287 1h0m20 0h0m10 0h0m10 0h0m190 0h0m25 0h0m65 0h0m35 0h0m-362 1h0m10 0h0m10 0h0m30 0h0m5 0h0m115 0h0m55 0h0m10 0h0m10 0h0m35 0h0m10 0h0m-277 1h0m5 0h0m35 0h0m90 0h0m75 0h0m50 0h0m40 0h0m-317 1h0m35 0h0m25 0h0m15 0h0m105 0h0m30 0h0m5 0h0m20 0h0m45 0h0m5 0h0m-222 1h0m165 0h0m10 0h0m15 0h0m35 0h0m-282 1h0m10 0h0m30 0h0m30 0h0m105 0h0m50 0h0m40 0h0m-237 1h0m15 0h0m15 0h0m20 0h0m160 0h0m5 0h0m30 0h0m5 0h0m5 0h0m-282 1h0m20 0h0m50 0h0m115 0h0m40 0h0m20 0h0m50 0h0m60 0h0m-392 1h0m35 0h0m5 0h0m35 0h0m10 0h0m65 0h0m20 0h0m55 0h0m35 0h0m30 0h0m10 0h0m95 0h0m-312 1h0m140 0h0m70 0h0m15 0h0m130 0h0m-407 1h0m5 0h0m15 0h0m60 0h0m145 0h0m5 0h0m75 0h0m-277 1h0m5 0h0m20 0h0m55 0h0m150 0h0m20 0h0m-282 1h0m15 0h0m20 0h0m5 0h0m5 0h0m10 0h0m210 0h0m15 0h0m-267 1h0m10 0h0m5 0h0m5 0h0m20 0h0m10 0h0m195 0h0m20 0h0m10 0h0m10 0h0m10 0h0m-327 1h0m50 0h0m205 0h0m20 0h0m5 0h0m5 0h0m15 0h0m-282 1h0m40 0h0m10 0h0m10 0h0m165 0h0m35 0h0m10 0h0m15 0h0m15 0h0m25 0h0m-302 1h0m20 0h0m10 0h0m5 0h0m30 0h0m180 0h0m10 0h0m5 0h0m25 0h0m5 0h0m-242 1h0m40 0h0m145 0h0m5 0h0m35 0h0m40 0h0m-302 1h0m30 0h0m5 0h0m170 0h0m20 0h0m30 0h0m-287 1h0m30 0h0m15 0h0m15 0h0m5 0h0m5 0h0m175 0h0m5 0h0m5 0h0m35 0h0m5 0h0m-312 1h0m20 0h0m5 0h0m35 0h0m10 0h0m175 0h0m30 0h0m10 0h0m55 0h0m-307 1h0m15 0h0m5 0h0m20 0h0m185 0h0m5 0h0m5 0h0m5 0h0m25 0h0m45 0h0m-307 1h0m15 0h0m5 0h0m5 0h0m15 0h0m20 0h0m15 0h0m150 0h0m15 0h0m5 0h0m5 0h0m10 0h0m15 0h0m10 0h0m15 0h0m-277 1h0m15 0h0m25 0h0m180 0h0m5 0h0m15 0h0m25 0h0m-292 1h0m25 0h0m20 0h0m5 0h0m15 0h0m175 0h0m10 0h0m20 0h0m5 0h0m-302 1h0m50 0h0m5 0h0m140 0h0m30 0h0m50 0h0m5 0h0m140 0h0m-367 1h0m5 0h0m5 0h0m215 0h0m5 0h0m15 0h0m5 0h0m-267 1h0m10 0h0m220 0h0m5 0h0m15 0h0m15 0h0m-312 1h0m70 0h0m5 0h0m150 0h0m75 0h0m5 0h0m-252 1h0m10 0h0m5 0h0m5 0h0m210 0h0m10 0h0m20 0h0m5 0h0m-247 1h0m75 0h0m150 0h0m75 0h0m-332 1h0m5 0h0m15 0h0m5 0h0m5 0h0m5 0h0m5 0h0m20 0h0m180 0h0m15 0h0m5 0h0m-272 1h0m40 0h0m15 0h0m205 0h0m5 0h0m15 0h0m-247 1h0m215 0h0m25 0h0m-242 1h0m5 0h0m210 0h0m5 0h0m5 0h0m5 0h0m-252 1h0m25 0h0m220 0h0m5 0h0m90 0h0m-287 1h0m210 0h0m15 0h0m-232 1h0m30 0h0m195 0h0m30 0h0m-317 1h0m35 0h0m190 0h0m35 0h0m-232 1h0m10 0h0m5 0h0m15 0h0m20 0h0m175 0h0m10 0h0m-207 1h0m225 0h0m-62 1h0m60 0h0m-244 2h0m225 0h0m10 0h0m-222 1h0m15 0h0m225 0h0m-242 1h0m240 0h0m-232 1h0m-17 1h0m225 0h0m-217 1h0m15 0h0m18 1h0m150 0h0m15 0h0m40 0h0m10 0h0m10 0h0m-287 1h0m25 0h0m115 0h0m90 0h0m20 0h0m115 0h0m-357 1h0m225 0h0m20 0h0m-247 1h0m20 0h0m205 0h0m20 0h0m10 0h0m-239 2h0m15 0h0m213 1h0m10 0h0m-4 2h0m3 1h0m-204 2h0m205 0h0m20 0h0m-262 1h0m225 0h0m-247 1h0m225 0h0m30 0h0m-192 6h0m180 0h0m5 0h0m40 0h0m-12 1h0m-256 3h0m10 0h0m230 0h0m-232 1h0m36 2h0m187 4h0m-44 2h0m56 2h0m19 3h0m-29 27h0m-223 14h0m-14 12h0"/>
<path d="M264.5 74.5h0m-28 34h0m236 17h0m18 11h0m40 0h0m-369 2h0m315 0h0m-24 7h0m-192 1h0m-42 1h0m118 1h0m180 0h0m-402 1h0m18 1h0m175 0h0m50 0h0m93 1h0m-319 2h0m225 0h0m-113 4h0m43 1h0m10 0h0m215 0h0m-224 2h0m-24 2h0m10 0h0m225 0h0m-231 3h0m6 2h0m-29 2h0m225 0h0m13 1h0m-177 1h0m225 0h0m-247 1h0m50 0h0m-79 2h0m-114 2h0m-2 1h0m160 0h0m65 0h0m160 0h0m-247 1h0m25 0h0m225 0h0m-29 2h0m5 0h0m-392 1h0m125 0h0m225 0h0m-334 2h0m105 0h0m110 0h0m10 0h0m105 0h0m15 0h0m-257 1h0m225 0h0m105 0h0m-202 1h0m-62 1h0m28 1h0m15 0h0m5 0h0m170 0h0m35 0h0m20 0h0m-267 1h0m30 0h0m15 0h0m180 0h0m-377 1h0m135 0h0m55 0h0m35 0h0m135 0h0m55 0h0m-432 1h0m105 0h0m55 0h0m170 0h0m75 0h0m-297 1h0m210 0h0m50 0h0m-244 2h0m65 0h0m160 0h0m-337 1h0m175 0h0m10 0h0m10 0h0m30 0h0m195 0h0m-267 1h0m35 0h0m190 0h0m40 0h0m-232 1h0m225 0h0m-302 1h0m70 0h0m-27 1h0m35 0h0m190 0h0m5 0h0m-252 1h0m20 0h0m40 0h0m10 0h0m35 0h0m120 0h0m20 0h0m-292 1h0m50 0h0m25 0h0m150 0h0m35 0h0m15 0h0m25 0h0m15 0h0m-422 1h0m160 0h0m5 0h0m25 0h0m35 0h0m115 0h0m45 0h0m5 0h0m15 0h0m10 0h0m-197 1h0m225 0h0m-442 1h0m200 0h0m210 0h0m5 0h0m10 0h0m-422 1h0m140 0h0m25 0h0m48 1h0m180 0h0m-382 1h0m130 0h0m5 0h0m5 0h0m5 0h0m10 0h0m50 0h0m10 0h0m10 0h0m130 0h0m5 0h0m5 0h0m5 0h0m5 0h0m5 0h0m50 0h0m-242 1h0m5 0h0m5 0h0m5 0h0m175 0h0m35 0h0m-427 1h0m125 0h0m30 0h0m5 0h0m15 0h0m5 0h0m5 0h0m5 0h0m10 0h0m5 0h0m5 0h0m5 0h0m10 0h0m20 0h0m85 0h0m20 0h0m25 0h0m5 0h0m5 0h0m15 0h0m5 0h0m5 0h0m5 0h0m15 0h0m10 0h0m-442 1h0m10 0h0m110 0h0m65 0h0m10 0h0m5 0h0m25 0h0m115 0h0m15 0h0m25 0h0m25 0h0m5 0h0m10 0h0m5 0h0m5 0h0m-412 1h0m10 0h0m130 0h0m10 0h0m5 0h0m15 0h0m25 0h0m40 0h0m140 0h0m20 0h0m5 0h0m5 0h0m10 0h0m5 0h0m-312 1h0m20 0h0m35 0h0m50 0h0m120 0h0m20 0h0m35 0h0m25 0h0m-272 1h0m15 0h0m15 0h0m10 0h0m5 0h0m15 0h0m165 0h0m15 0h0m5 0h0m10 0h0m10 0h0m5 0h0m-422 1h0m15 0h0m115 0h0m5 0h0m35 0h0m5 0h0m50 0h0m150 0h0m25 0h0m5 0h0m5 0h0m-417 1h0m5 0h0m155 0h0m20 0h0m15 0h0m10 0h0m5 0h0m15 0h0m5 0h0m115 0h0m40 0h0m5 0h0m15 0h0m10 0h0m5 0h0m10 0h0m5 0h0m10 0h0m-422 1h0m70 0h0m30 0h0m30 0h0m10 0h0m5 0h0m5 0h0m5 0h0m20 0h0m5 0h0m5 0h0m20 0h0m120 0h0m30 0h0m10 0h0m5 0h0m25 0h0m5 0h0m5 0h0m20 0h0m-292 1h0m35 0h0m5 0h0m20 0h0m10 0h0m10 0h0m145 0h0m25 0h0m10 0h0m5 0h0m5 0h0m15 0h0m-437 1h0m125 0h0m15 0h0m10 0h0m5 0h0m5 0h0m5 0h0m5 0h0m30 0h0m20 0h0m5 0h0m5 0h0m140 0h0m5 0h0m15 0h0m5 0h0m5 0h0m5 0h0m20 0h0m15 0h0m5 0h0m-437 1h0m5 0h0m20 0h0m160 0h0m10 0h0m30 0h0m5 0h0m10 0h0m10 0h0m95 0h0m5 0h0m10 0h0m10 0h0m10 0h0m40 0h0m5 0h0m-432 1h0m100 0h0m20 0h0m45 0h0m15 0h0m10 0h0m5 0h0m30 0h0m10 0h0m110 0h0m45 0h0m5 0h0m15 0h0m-392 1h0m105 0h0m5 0h0m25 0h0m15 0h0m15 0h0m45 0h0m120 0h0m30 0h0m30 0h0m5 0h0m10 0h0m5 0h0m-402 1h0m125 0h0m15 0h0m5 0h0m15 0h0m5 0h0m20 0h0m5 0h0m35 0h0m95 0h0m50 0h0m15 0h0m25 0h0m5 0h0m-447 1h0m5 0h0m5 0h0m110 0h0m35 0h0m10 0h0m5 0h0m15 0h0m5 0h0m10 0h0m5 0h0m10 0h0m15 0h0m5 0h0m5 0h0m120 0h0m20 0h0m10 0h0m5 0h0m15 0h0m5 0h0m5 0h0m-407 1h0m5 0h0m90 0h0m15 0h0m30 0h0m15 0h0m55 0h0m20 0h0m10 0h0m95 0h0m5 0h0m25 0h0m70 0h0m-447 1h0m10 0h0m115 0h0m10 0h0m10 0h0m5 0h0m5 0h0m10 0h0m20 0h0m5 0h0m15 0h0m5 0h0m10 0h0m5 0h0m15 0h0m15 0h0m85 0h0m10 0h0m10 0h0m10 0h0m5 0h0m5 0h0m10 0h0m5 0h0m25 0h0m10 0h0m-422 1h0m10 0h0m90 0h0m30 0h0m5 0h0m5 0h0m10 0h0m35 0h0m5 0h0m5 0h0m30 0h0m10 0h0m120 0h0m5 0h0m5 0h0m10 0h0m5 0h0m5 0h0m30 0h0m5 0h0m10 0h0m-427 1h0m5 0h0m95 0h0m15 0h0m5 0h0m60 0h0m5 0h0m5 0h0m5 0h0m5 0h0m5 0h0m20 0h0m100 0h0m10 0h0m10 0h0m30 0h0m30 0h0m5 0h0m5 0h0m5 0h0m5 0h0m5 0h0m5 0h0m-447 1h0m5 0h0m10 0h0m15 0h0m20 0h0m50 0h0m15 0h0m10 0h0m10 0h0m15 0h0m5 0h0m10 0h0m45 0h0m20 0h0m10 0h0m5 0h0m5 0h0m25 0h0m75 0h0m10 0h0m15 0h0m5 0h0m5 0h0m5 0h0m10 0h0m5 0h0m25 0h0m15 0h0m-442 1h0m50 0h0m90 0h0m10 0h0m5 0h0m5 0h0m25 0h0m15 0h0m40 0h0m10 0h0m85 0h0m5 0h0m25 0h0m60 0h0m-427 1h0m15 0h0m10 0h0m10 0h0m120 0h0m5 0h0m25 0h0m10 0h0m40 0h0m5 0h0m10 0h0m10 0h0m125 0h0m5 0h0m30 0h0m-297 1h0m30 0h0m5 0h0m40 0h0m25 0h0m5 0h0m120 0h0m35 0h0m15 0h0m10 0h0m40 0h0m-427 1h0m20 0h0m90 0h0m5 0h0m15 0h0m50 0h0m20 0h0m45 0h0m95 0h0m10 0h0m5 0h0m5 0h0m10 0h0m20 0h0m5 0h0m25 0h0m5 0h0m-432 1h0m20 0h0m75 0h0m5 0h0m15 0h0m35 0h0m10 0h0m20 0h0m5 0h0m40 0h0m20 0h0m75 0h0m25 0h0m40 0h0m20 0h0m20 0h0m-437 1h0m10 0h0m15 0h0m5 0h0m70 0h0m10 0h0m10 0h0m15 0h0m15 0h0m45 0h0m25 0h0m5 0h0m20 0h0m10 0h0m105 0h0m10 0h0m5 0h0m5 0h0m10 0h0m10 0h0m20 0h0m25 0h0m-447 1h0m5 0h0m155 0h0m5 0h0m5 0h0m5 0h0m5 0h0m15 0h0m30 0h0m5 0h0m20 0h0m125 0h0m20 0h0m10 0h0m35 0h0m-417 1h0m5 0h0m25 0h0m55 0h0m5 0h0m5 0h0m10 0h0m30 0h0m20 0h0m20 0h0m5 0h0m50 0h0m25 0h0m55 0h0m10 0h0m15 0h0m25 0h0m20 0h0m15 0h0m10 0h0m10 0h0m-417 1h0m15 0h0m20 0h0m35 0h0m35 0h0m25 0h0m5 0h0m5 0h0m25 0h0m10 0h0m15 0h0m40 0h0m5 0h0m5 0h0m20 0h0m35 0h0m15 0h0m20 0h0m5 0h0m35 0h0m30 0h0m15 0h0m-432 1h0m15 0h0m100 0h0m20 0h0m35 0h0m5 0h0m5 0h0m10 0h0m5 0h0m25 0h0m15 0h0m10 0h0m5 0h0m90 0h0m20 0h0m5 0h0m20 0h0m10 0h0m10 0h0m10 0h0m30 0h0m-447 1h0m10 0h0m10 0h0m30 0h0m100 0h0m5 0h0m70 0h0m10 0h0m25 0h0m5 0h0m10 0h0m65 0h0m5 0h0m20 0h0m10 0h0m5 0h0m35 0h0m-407 1h0m115 0h0m15 0h0m15 0h0m40 0h0m15 0h0m25 0h0m25 0h0m90 0h0m15 0h0m20 0h0m15 0h0m5 0h0m15 0h0m15 0h0m5 0h0m-327 1h0m5 0h0m10 0h0m5 0h0m35 0h0m15 0h0m150 0h0m10 0h0m10 0h0m5 0h0m15 0h0m-362 1h0m10 0h0m5 0h0m5 0h0m10 0h0m30 0h0m40 0h0m20 0h0m5 0h0m5 0h0m15 0h0m40 0h0m10 0h0m5 0h0m10 0h0m15 0h0m10 0h0m5 0h0m15 0h0m10 0h0m75 0h0m10 0h0m5 0h0m15 0h0m15 0h0m5 0h0m15 0h0m5 0h0m10 0h0m5 0h0m10 0h0m-427 1h0m5 0h0m5 0h0m75 0h0m10 0h0m15 0h0m50 0h0m10 0h0m30 0h0m35 0h0m70 0h0m10 0h0m15 0h0m5 0h0m30 0h0m10 0h0m10 0h0m-402 1h0m5 0h0m5 0h0m10 0h0m5 0h0m5 0h0m10 0h0m20 0h0m55 0h0m5 0h0m40 0h0m65 0h0m5 0h0m15 0h0m5 0h0m5 0h0m10 0h0m20 0h0m15 0h0m35 0h0m10 0h0m40 0h0m30 0h0m-417 1h0m10 0h0m5 0h0m5 0h0m70 0h0m15 0h0m10 0h0m10 0h0m20 0h0m5 0h0m10 0h0m5 0h0m10 0h0m10 0h0m15 0h0m10 0h0m15 0h0m10 0h0m10 0h0m15 0h0m5 0h0m20 0h0m45 0h0m10 0h0m5 0h0m25 0h0m5 0h0m15 0h0m10 0h0m5 0h0m5 0h0m10 0h0m5 0h0m10 0h0m-417 1h0m5 0h0m90 0h0m20 0h0m30 0h0m20 0h0m15 0h0m10 0h0m15 0h0m25 0h0m25 0h0m60 0h0m5 0h0m10 0h0m10 0h0m30 0h0m45 0h0m-407 1h0m10 0h0m15 0h0m80 0h0m10 0h0m20 0h0m10 0h0m40 0h0m5 0h0m35 0h0m25 0h0m65 0h0m25 0h0m30 0h0m20 0h0m20 0h0m5 0h0m-432 1h0m30 0h0m55 0h0m20 0h0m5 0h0m15 0h0m15 0h0m20 0h0m15 0h0m80 0h0m85 0h0m5 0h0m5 0h0m50 0h0m-377 1h0m5 0h0m60 0h0m10 0h0m10 0h0m10 0h0m85 0h0m45 0h0m5 0h0m40 0h0m30 0h0m10 0h0m20 0h0m40 0h0m-307 1h0m5 0h0m15 0h0m15 0h0m70 0h0m15 0h0m5 0h0m15 0h0m5 0h0m10 0h0m10 0h0m5 0h0m5 0h0m15 0h0m40 0h0m15 0h0m10 0h0m60 0h0m10 0h0m20 0h0m5 0h0m-412 1h0m10 0h0m55 0h0m10 0h0m5 0h0m5 0h0m5 0h0m80 0h0m30 0h0m10 0h0m15 0h0m75 0h0m10 0h0m5 0h0m15 0h0m5 0h0m-342 1h0m25 0h0m55 0h0m5 0h0m5 0h0m20 0h0m90 0h0m25 0h0m10 0h0m5 0h0m30 0h0m10 0h0m25 0h0m5 0h0m10 0h0m20 0h0m45 0h0m-387 1h0m10 0h0m80 0h0m115 0h0m20 0h0m90 0h0m85 0h0m-412 1h0m10 0h0m15 0h0m5 0h0m15 0h0m15 0h0m65 0h0m35 0h0m25 0h0m5 0h0m15 0h0m20 0h0m20 0h0m5 0h0m5 0h0m5 0h0m10 0h0m5 0h0m10 0h0m65 0h0m60 0h0m20 0h0m-397 1h0m55 0h0m20 0h0m5 0h0m85 0h0m45 0h0m15 0h0m55 0h0m20 0h0m90 0h0m-432 1h0m30 0h0m25 0h0m35 0h0m10 0h0m95 0h0m10 0h0m45 0h0m5 0h0m5 0h0m5 0h0m15 0h0m45 0h0m20 0h0m75 0h0m10 0h0m-422 1h0m20 0h0m15 0h0m5 0h0m45 0h0m5 0h0m15 0h0m35 0h0m85 0h0m20 0h0m15 0h0m70 0h0m15 0h0m10 0h0m70 0h0m-412 1h0m5 0h0m10 0h0m50 0h0m10 0h0m15 0h0m90 0h0m15 0h0m20 0h0m5 0h0m70 0h0m10 0h0m30 0h0m15 0h0m60 0h0m15 0h0m-412 1h0m20 0h0m5 0h0m30 0h0m20 0h0m5 0h0m5 0h0m10 0h0m85 0h0m25 0h0m20 0h0m20 0h0m35 0h0m20 0h0m10 0h0m10 0h0m-347 1h0m40 0h0m80 0h0m75 0h0m70 0h0m5 0h0m20 0h0m30 0h0m20 0h0m5 0h0m25 0h0m50 0h0m-392 1h0m25 0h0m55 0h0m15 0h0m105 0h0m25 0h0m70 0h0m5 0h0m5 0h0m15 0h0m-327 1h0m5 0h0m15 0h0m45 0h0m15 0h0m145 0h0m5 0h0m5 0h0m10 0h0m45 0h0m5 0h0m10 0h0m25 0h0m65 0h0m-407 1h0m15 0h0m10 0h0m40 0h0m10 0h0m10 0h0m15 0h0m5 0h0m30 0h0m25 0h0m65 0h0m25 0h0m5 0h0m35 0h0m10 0h0m25 0h0m5 0h0m55 0h0m-362 1h0m60 0h0m20 0h0m105 0h0m50 0h0m5 0h0m45 0h0m30 0h0m95 0h0m-402 1h0m35 0h0m20 0h0m10 0h0m10 0h0m150 0h0m45 0h0m10 0h0m10 0h0m10 0h0m-322 1h0m15 0h0m10 0h0m5 0h0m5 0h0m15 0h0m45 0h0m130 0h0m25 0h0m60 0h0m5 0h0m5 0h0m-332 1h0m25 0h0m15 0h0m10 0h0m45 0h0m5 0h0m5 0h0m50 0h0m70 0h0m5 0h0m20 0h0m15 0h0m10 0h0m45 0h0m10 0h0m50 0h0m-352 1h0m20 0h0m25 0h0m5 0h0m10 0h0m165 0h0m20 0h0m-247 1h0m5 0h0m5 0h0m45 0h0m20 0h0m135 0h0m25 0h0m45 0h0m20 0h0m-337 1h0m40 0h0m10 0h0m15 0h0m20 0h0m20 0h0m75 0h0m15 0h0m25 0h0m45 0h0m15 0h0m10 0h0m40 0h0m75 0h0m-372 1h0m15 0h0m10 0h0m20 0h0m10 0h0m10 0h0m5 0h0m5 0h0m5 0h0m10 0h0m55 0h0m80 0h0m15 0h0m10 0h0m40 0h0m10 0h0m15 0h0m55 0h0m-367 1h0m10 0h0m5 0h0m15 0h0m25 0h0m5 0h0m5 0h0m160 0h0m10 0h0m5 0h0m15 0h0m5 0h0m10 0h0m10 0h0m5 0h0m5 0h0m-282 1h0m50 0h0m10 0h0m10 0h0m165 0h0m10 0h0m30 0h0m5 0h0m15 0h0m100 0h0m-402 1h0m5 0h0m15 0h0m10 0h0m20 0h0m15 0h0m15 0h0m145 0h0m20 0h0m5 0h0m5 0h0m30 0h0m90 0h0m-407 1h0m30 0h0m10 0h0m5 0h0m5 0h0m5 0h0m25 0h0m5 0h0m5 0h0m15 0h0m70 0h0m35 0h0m45 0h0m15 0h0m5 0h0m5 0h0m10 0h0m15 0h0m10 0h0m15 0h0m70 0h0m35 0h0m-397 1h0m5 0h0m25 0h0m25 0h0m20 0h0m5 0h0m30 0h0m115 0h0m55 0h0m25 0h0m30 0h0m-327 1h0m5 0h0m5 0h0m5 0h0m35 0h0m15 0h0m160 0h0m5 0h0m5 0h0m5 0h0m45 0h0m5 0h0m100 0h0m-442 1h0m30 0h0m25 0h0m30 0h0m10 0h0m30 0h0m100 0h0m30 0h0m25 0h0m15 0h0m15 0h0m35 0h0m5 0h0m-297 1h0m10 0h0m15 0h0m35 0h0m175 0h0m15 0h0m35 0h0m-292 1h0m35 0h0m5 0h0m5 0h0m5 0h0m10 0h0m5 0h0m10 0h0m40 0h0m105 0h0m5 0h0m35 0h0m10 0h0m5 0h0m10 0h0m15 0h0m35 0h0m5 0h0m-322 1h0m15 0h0m10 0h0m20 0h0m80 0h0m100 0h0m25 0h0m20 0h0m-52 1h0m-237 1h0m15 0h0m15 0h0m15 0h0m5 0h0m5 0h0m170 0h0m15 0h0m5 0h0m25 0h0m5 0h0m5 0h0m45 0h0m-322 1h0m20 0h0m20 0h0m10 0h0m15 0h0m145 0h0m15 0h0m20 0h0m10 0h0m10 0h0m10 0h0m-302 1h0m20 0h0m45 0h0m15 0h0m5 0h0m5 0h0m110 0h0m50 0h0m10 0h0m5 0h0m160 0h0m-402 1h0m20 0h0m5 0h0m5 0h0m40 0h0m20 0h0m105 0h0m30 0h0m20 0h0m5 0h0m5 0h0m60 0h0m-317 1h0m10 0h0m25 0h0m5 0h0m10 0h0m25 0h0m150 0h0m30 0h0m10 0h0m10 0h0m-272 1h0m10 0h0m15 0h0m15 0h0m5 0h0m35 0h0m55 0h0m90 0h0m10 0h0m20 0h0m15 0h0m90 0h0m-392 1h0m40 0h0m10 0h0m30 0h0m55 0h0m90 0h0m80 0h0m55 0h0m-352 1h0m45 0h0m15 0h0m5 0h0m205 0h0m15 0h0m20 0h0m-262 1h0m35 0h0m160 0h0m30 0h0m15 0h0m15 0h0m5 0h0m-272 1h0m15 0h0m10 0h0m5 0h0m160 0h0m25 0h0m10 0h0m15 0h0m10 0h0m10 0h0m-242 1h0m220 0h0m5 0h0m-272 1h0m25 0h0m25 0h0m5 0h0m10 0h0m160 0h0m25 0h0m30 0h0m15 0h0m-262 1h0m5 0h0m10 0h0m15 0h0m195 0h0m5 0h0m10 0h0m-207 1h0m185 0h0m25 0h0m15 0h0m5 0h0m20 0h0m-277 1h0m10 0h0m5 0h0m5 0h0m10 0h0m195 0h0m15 0h0m5 0h0m-257 1h0m10 0h0m5 0h0m10 0h0m20 0h0m180 0h0m10 0h0m15 0h0m5 0h0m5 0h0m10 0h0m-272 1h0m5 0h0m5 0h0m15 0h0m5 0h0m205 0h0m15 0h0m-247 1h0m5 0h0m15 0h0m15 0h0m30 0h0m160 0h0m5 0h0m15 0h0m10 0h0m5 0h0m30 0h0m-292 1h0m25 0h0m200 0h0m15 0h0m10 0h0m10 0h0m-252 1h0m15 0h0m10 0h0m25 0h0m190 0h0m10 0h0m25 0h0m-282 1h0m75 0h0m150 0h0m5 0h0m15 0h0m5 0h0m10 0h0m5 0h0m20 0h0m-272 1h0m5 0h0m195 0h0m25 0h0m-232 1h0m25 0h0m215 0h0m-267 1h0m30 0h0m10 0h0m10 0h0m5 0h0m170 0h0m40 0h0m10 0h0m-232 1h0m20 0h0m180 0h0m25 0h0m20 0h0m-252 1h0m225 0h0m-207 1h0m5 0h0m5 0h0m220 0h0m-257 1h0m10 0h0m70 0h0m155 0h0m-232 1h0m10 0h0m15 0h0m200 0h0m15 0h0m10 0h0m5 0h0m20 0h0m-257 1h0m5 0h0m225 0h0m5 0h0m-227 1h0m225 0h0m-247 1h0m25 0h0m200 0h0m25 0h0m-232 1h0m225 0h0m-222 1h0m220 0h0m-252 1h0m20 0h0m205 0h0m20 0h0m5 0h0m-237 1h0m20 0h0m5 0h0m200 0h0m20 0h0m5 0h0m-262 1h0m225 0h0m23 1h0m15 0h0m-267 1h0m225 0h0m-227 1h0m225 0h0m25 0h0m-272 1h0m55 0h0m-24 2h0m20 0h0m225 0h0m-7 1h0m15 0h0m-232 1h0m-14 2h0m225 0h0m-197 1h0m225 0h0m-242 1h0m225 0h0m-217 1h0m225 0h0m-227 6h0m225 0h0m-223 4h0m206 2h0m10 0h0m-2 1h0m36 2h0m-273 9h0m152 24h0m-107 6h0m47 9h0m147 4h0m-14 12h0"/>
<path d="M490.5 74.5h0m-178 29h0m150 5h0m-167 6h0m6 12h0m86 12h0m-67 1h0m-22 6h0m188 1h0m-42 1h0m-104 2h0m193 1h0m-266 3h0m225 0h0m-176 3h0m153 1h0m53 1h0m-9 2h0m-264 2h0m225 0h0m15 0h0m-262 1h0m225 0h0m-342 1h0m180 0h0m45 0h0m180 0h0m-227 1h0m205 0h0m20 0h0m-234 2h0m220 0h0m-292 1h0m-59 2h0m145 0h0m80 0h0m136 2h0m-254 2h0m225 0h0m-242 1h0m128 1h0m-262 1h0m8 1h0m150 0h0m225 0h0m15 0h0m-387 1h0m180 0h0m45 0h0m180 0h0m-257 1h0m225 0h0m-242 1h0m90 0h0m-77 1h0m40 0h0m5 0h0m225 0h0m-384 2h0m105 0h0m60 0h0m60 0h0m105 0h0m-172 1h0m8 1h0m195 0h0m30 0h0m13 1h0m-7 1h0m-232 1h0m225 0h0m-272 1h0m40 0h0m40 0h0m160 0h0m25 0h0m-277 1h0m200 0h0m25 0h0m-302 1h0m80 0h0m15 0h0m45 0h0m85 0h0m95 0h0m45 0h0m-282 1h0m35 0h0m20 0h0m220 0h0m5 0h0m-252 1h0m245 0h0m10 0h0m-272 1h0m5 0h0m25 0h0m15 0h0m180 0h0m5 0h0m45 0h0m-257 1h0m10 0h0m25 0h0m200 0h0m25 0h0m-432 1h0m180 0h0m45 0h0m125 0h0m70 0h0m-287 1h0m5 0h0m15 0h0m10 0h0m35 0h0m10 0h0m150 0h0m5 0h0m15 0h0m15 0h0m35 0h0m5 0h0m-257 1h0m15 0h0m240 0h0m-437 1h0m155 0h0m45 0h0m5 0h0m20 0h0m-82 1h0m20 0h0m25 0h0m5 0h0m25 0h0m150 0h0m20 0h0m25 0h0m5 0h0m25 0h0m-437 1h0m110 0h0m70 0h0m155 0h0m70 0h0m-367 1h0m65 0h0m30 0h0m15 0h0m5 0h0m30 0h0m20 0h0m15 0h0m140 0h0m15 0h0m5 0h0m-362 1h0m100 0h0m40 0h0m5 0h0m5 0h0m35 0h0m5 0h0m15 0h0m120 0h0m20 0h0m25 0h0m5 0h0m35 0h0m5 0h0m-277 1h0m35 0h0m190 0h0m55 0h0m-397 1h0m100 0h0m35 0h0m5 0h0m25 0h0m10 0h0m165 0h0m25 0h0m-292 1h0m30 0h0m5 0h0m220 0h0m5 0h0m55 0h0m5 0h0m5 0h0m-437 1h0m145 0h0m40 0h0m30 0h0m160 0h0m5 0h0m25 0h0m5 0h0m10 0h0m10 0h0m10 0h0m-402 1h0m95 0h0m5 0h0m40 0h0m50 0h0m110 0h0m65 0h0m-272 1h0m10 0h0m10 0h0m5 0h0m25 0h0m5 0h0m5 0h0m45 0h0m140 0h0m5 0h0m5 0h0m5 0h0m15 0h0m5 0h0m-407 1h0m120 0h0m15 0h0m10 0h0m10 0h0m45 0h0m25 0h0m120 0h0m15 0h0m20 0h0m-377 1h0m40 0h0m65 0h0m15 0h0m15 0h0m5 0h0m15 0h0m25 0h0m20 0h0m65 0h0m80 0h0m60 0h0m20 0h0m5 0h0m-352 1h0m85 0h0m5 0h0m5 0h0m15 0h0m45 0h0m115 0h0m5 0h0m35 0h0m5 0h0m20 0h0m-417 1h0m125 0h0m25 0h0m25 0h0m15 0h0m5 0h0m10 0h0m5 0h0m140 0h0m25 0h0m40 0h0m5 0h0m-307 1h0m25 0h0m50 0h0m10 0h0m10 0h0m30 0h0m70 0h0m80 0h0m5 0h0m20 0h0m10 0h0m10 0h0m-312 1h0m10 0h0m40 0h0m5 0h0m15 0h0m165 0h0m40 0h0m5 0h0m5 0h0m5 0h0m5 0h0m-417 1h0m135 0h0m15 0h0m15 0h0m10 0h0m20 0h0m5 0h0m10 0h0m10 0h0m5 0h0m120 0h0m15 0h0m15 0h0m5 0h0m10 0h0m10 0h0m20 0h0m5 0h0m-432 1h0m10 0h0m10 0h0m70 0h0m40 0h0m5 0h0m5 0h0m30 0h0m35 0h0m30 0h0m5 0h0m5 0h0m110 0h0m5 0h0m35 0h0m25 0h0m10 0h0m-422 1h0m25 0h0m10 0h0m115 0h0m5 0h0m20 0h0m10 0h0m10 0h0m5 0h0m5 0h0m45 0h0m70 0h0m55 0h0m5 0h0m20 0h0m10 0h0m5 0h0m10 0h0m5 0h0m-427 1h0m130 0h0m40 0h0m10 0h0m5 0h0m15 0h0m5 0h0m20 0h0m10 0h0m110 0h0m25 0h0m15 0h0m10 0h0m5 0h0m5 0h0m25 0h0m-337 1h0m20 0h0m5 0h0m20 0h0m5 0h0m5 0h0m10 0h0m5 0h0m10 0h0m10 0h0m5 0h0m20 0h0m35 0h0m95 0h0m25 0h0m5 0h0m5 0h0m10 0h0m5 0h0m10 0h0m10 0h0m-417 1h0m10 0h0m40 0h0m65 0h0m45 0h0m5 0h0m15 0h0m5 0h0m15 0h0m5 0h0m5 0h0m5 0h0m5 0h0m120 0h0m45 0h0m5 0h0m20 0h0m10 0h0m5 0h0m10 0h0m-367 1h0m55 0h0m15 0h0m5 0h0m35 0h0m5 0h0m10 0h0m15 0h0m5 0h0m20 0h0m5 0h0m90 0h0m15 0h0m20 0h0m25 0h0m30 0h0m20 0h0m-432 1h0m80 0h0m35 0h0m15 0h0m35 0h0m5 0h0m5 0h0m10 0h0m5 0h0m15 0h0m20 0h0m125 0h0m5 0h0m35 0h0m10 0h0m5 0h0m5 0h0m5 0h0m10 0h0m10 0h0m-437 1h0m105 0h0m25 0h0m15 0h0m5 0h0m25 0h0m150 0h0m30 0h0m10 0h0m5 0h0m30 0h0m10 0h0m5 0h0m-422 1h0m40 0h0m100 0h0m10 0h0m15 0h0m10 0h0m5 0h0m5 0h0m5 0h0m30 0h0m5 0h0m15 0h0m25 0h0m85 0h0m50 0h0m15 0h0m10 0h0m20 0h0m-437 1h0m5 0h0m15 0h0m95 0h0m70 0h0m15 0h0m10 0h0m5 0h0m5 0h0m5 0h0m5 0h0m15 0h0m70 0h0m15 0h0m10 0h0m85 0h0m10 0h0m-432 1h0m10 0h0m100 0h0m25 0h0m15 0h0m10 0h0m10 0h0m15 0h0m5 0h0m25 0h0m50 0h0m95 0h0m5 0h0m5 0h0m5 0h0m10 0h0m10 0h0m5 0h0m-392 1h0m10 0h0m5 0h0m30 0h0m55 0h0m5 0h0m10 0h0m20 0h0m5 0h0m10 0h0m15 0h0m5 0h0m5 0h0m15 0h0m5 0h0m10 0h0m15 0h0m10 0h0m5 0h0m35 0h0m55 0h0m15 0h0m20 0h0m5 0h0m10 0h0m15 0h0m5 0h0m20 0h0m-437 1h0m120 0h0m15 0h0m15 0h0m15 0h0m10 0h0m5 0h0m20 0h0m5 0h0m5 0h0m15 0h0m120 0h0m30 0h0m5 0h0m25 0h0m20 0h0m5 0h0m5 0h0m-387 1h0m85 0h0m5 0h0m5 0h0m10 0h0m15 0h0m5 0h0m15 0h0m5 0h0m10 0h0m5 0h0m10 0h0m5 0h0m25 0h0m110 0h0m20 0h0m40 0h0m10 0h0m5 0h0m15 0h0m-442 1h0m5 0h0m10 0h0m5 0h0m20 0h0m65 0h0m10 0h0m10 0h0m5 0h0m10 0h0m10 0h0m45 0h0m15 0h0m15 0h0m15 0h0m90 0h0m5 0h0m15 0h0m5 0h0m10 0h0m20 0h0m35 0h0m-417 1h0m5 0h0m15 0h0m5 0h0m80 0h0m45 0h0m35 0h0m15 0h0m5 0h0m25 0h0m15 0h0m75 0h0m10 0h0m10 0h0m35 0h0m65 0h0m-447 1h0m5 0h0m15 0h0m5 0h0m100 0h0m55 0h0m10 0h0m15 0h0m10 0h0m15 0h0m15 0h0m140 0h0m5 0h0m10 0h0m5 0h0m15 0h0m10 0h0m-432 1h0m5 0h0m5 0h0m25 0h0m10 0h0m55 0h0m10 0h0m15 0h0m5 0h0m5 0h0m25 0h0m10 0h0m25 0h0m5 0h0m20 0h0m15 0h0m15 0h0m20 0h0m70 0h0m10 0h0m5 0h0m40 0h0m30 0h0m20 0h0m-427 1h0m5 0h0m5 0h0m5 0h0m75 0h0m5 0h0m5 0h0m40 0h0m25 0h0m10 0h0m15 0h0m10 0h0m25 0h0m5 0h0m5 0h0m5 0h0m120 0h0m5 0h0m5 0h0m20 0h0m5 0h0m5 0h0m-417 1h0m5 0h0m10 0h0m55 0h0m15 0h0m15 0h0m40 0h0m5 0h0m15 0h0m5 0h0m10 0h0m15 0h0m15 0h0m5 0h0m5 0h0m10 0h0m5 0h0m15 0h0m50 0h0m15 0h0m55 0h0m25 0h0m10 0h0m5 0h0m20 0h0m5 0h0m-417 1h0m20 0h0m70 0h0m10 0h0m15 0h0m20 0h0m20 0h0m15 0h0m10 0h0m5 0h0m10 0h0m5 0h0m35 0h0m80 0h0m10 0h0m35 0h0m50 0h0m10 0h0m5 0h0m-432 1h0m20 0h0m5 0h0m75 0h0m10 0h0m5 0h0m110 0h0m20 0h0m5 0h0m90 0h0m20 0h0m15 0h0m-382 1h0m5 0h0m10 0h0m15 0h0m10 0h0m65 0h0m5 0h0m5 0h0m20 0h0m5 0h0m5 0h0m5 0h0m30 0h0m15 0h0m30 0h0m15 0h0m15 0h0m75 0h0m10 0h0m20 0h0m5 0h0m5 0h0m25 0h0m10 0h0m5 0h0m10 0h0m-402 1h0m10 0h0m100 0h0m10 0h0m30 0h0m15 0h0m10 0h0m20 0h0m5 0h0m25 0h0m5 0h0m10 0h0m40 0h0m40 0h0m15 0h0m5 0h0m60 0h0m15 0h0m5 0h0m-422 1h0m10 0h0m10 0h0m85 0h0m30 0h0m10 0h0m60 0h0m20 0h0m5 0h0m5 0h0m5 0h0m5 0h0m70 0h0m10 0h0m5 0h0m40 0h0m20 0h0m10 0h0m30 0h0m-427 1h0m90 0h0m5 0h0m10 0h0m20 0h0m10 0h0m30 0h0m25 0h0m15 0h0m15 0h0m95 0h0m10 0h0m25 0h0m10 0h0m30 0h0m25 0h0m-407 1h0m5 0h0m65 0h0m25 0h0m5 0h0m20 0h0m90 0h0m5 0h0m75 0h0m5 0h0m25 0h0m5 0h0m35 0h0m-282 1h0m15 0h0m10 0h0m35 0h0m10 0h0m30 0h0m5 0h0m5 0h0m10 0h0m20 0h0m85 0h0m15 0h0m45 0h0m20 0h0m15 0h0m5 0h0m5 0h0m15 0h0m-437 1h0m15 0h0m5 0h0m5 0h0m80 0h0m20 0h0m10 0h0m15 0h0m30 0h0m5 0h0m55 0h0m10 0h0m80 0h0m15 0h0m15 0h0m15 0h0m30 0h0m5 0h0m-422 1h0m5 0h0m30 0h0m5 0h0m5 0h0m50 0h0m10 0h0m10 0h0m30 0h0m90 0h0m30 0h0m5 0h0m50 0h0m10 0h0m10 0h0m5 0h0m25 0h0m5 0h0m20 0h0m-377 1h0m10 0h0m15 0h0m40 0h0m55 0h0m30 0h0m5 0h0m45 0h0m35 0h0m15 0h0m40 0h0m15 0h0m30 0h0m10 0h0m35 0h0m40 0h0m5 0h0m-442 1h0m5 0h0m10 0h0m60 0h0m35 0h0m5 0h0m5 0h0m5 0h0m5 0h0m10 0h0m60 0h0m30 0h0m10 0h0m60 0h0m20 0h0m30 0h0m5 0h0m10 0h0m60 0h0m-407 1h0m30 0h0m45 0h0m40 0h0m10 0h0m5 0h0m95 0h0m25 0h0m55 0h0m15 0h0m35 0h0m55 0h0m-417 1h0m35 0h0m70 0h0m5 0h0m100 0h0m15 0h0m35 0h0m5 0h0m60 0h0m5 0h0m20 0h0m85 0h0m-432 1h0m30 0h0m10 0h0m55 0h0m45 0h0m35 0h0m30 0h0m20 0h0m20 0h0m185 0h0m-437 1h0m15 0h0m5 0h0m25 0h0m5 0h0m50 0h0m125 0h0m15 0h0m5 0h0m25 0h0m5 0h0m50 0h0m65 0h0m30 0h0m-422 1h0m15 0h0m20 0h0m50 0h0m15 0h0m15 0h0m10 0h0m90 0h0m25 0h0m70 0h0m15 0h0m15 0h0m5 0h0m-347 1h0m50 0h0m55 0h0m30 0h0m40 0h0m50 0h0m50 0h0m40 0h0m10 0h0m35 0h0m40 0h0m-402 1h0m40 0h0m5 0h0m60 0h0m15 0h0m10 0h0m75 0h0m5 0h0m15 0h0m10 0h0m30 0h0m5 0h0m5 0h0m45 0h0m5 0h0m5 0h0m15 0h0m10 0h0m20 0h0m55 0h0m5 0h0m-432 1h0m25 0h0m15 0h0m10 0h0m40 0h0m45 0h0m5 0h0m35 0h0m50 0h0m20 0h0m5 0h0m10 0h0m15 0h0m40 0h0m20 0h0m-327 1h0m20 0h0m20 0h0m5 0h0m10 0h0m30 0h0m10 0h0m15 0h0m5 0h0m130 0h0m20 0h0m5 0h0m10 0h0m45 0h0m5 0h0m5 0h0m5 0h0m85 0h0m-437 1h0m25 0h0m5 0h0m5 0h0m5 0h0m55 0h0m15 0h0m75 0h0m5 0h0m35 0h0m5 0h0m20 0h0m70 0h0m15 0h0m15 0h0m-352 1h0m30 0h0m5 0h0m5 0h0m20 0h0m5 0h0m35 0h0m5 0h0m10 0h0m20 0h0m85 0h0m5 0h0m30 0h0m30 0h0m40 0h0m5 0h0m10 0h0m15 0h0m5 0h0m90 0h0m-417 1h0m5 0h0m10 0h0m5 0h0m45 0h0m30 0h0m5 0h0m15 0h0m15 0h0m30 0h0m5 0h0m55 0h0m20 0h0m45 0h0m40 0h0m30 0h0m30 0h0m5 0h0m-417 1h0m5 0h0m5 0h0m15 0h0m35 0h0m35 0h0m5 0h0m15 0h0m5 0h0m30 0h0m75 0h0m10 0h0m15 0h0m60 0h0m10 0h0m25 0h0m25 0h0m5 0h0m-347 1h0m5 0h0m60 0h0m25 0h0m10 0h0m20 0h0m30 0h0m80 0h0m60 0h0m20 0h0m5 0h0m30 0h0m-352 1h0m20 0h0m10 0h0m30 0h0m65 0h0m120 0h0m10 0h0m25 0h0m-272 1h0m35 0h0m35 0h0m15 0h0m5 0h0m135 0h0m5 0h0m15 0h0m5 0h0m10 0h0m5 0h0m30 0h0m-312 1h0m10 0h0m15 0h0m5 0h0m10 0h0m15 0h0m35 0h0m50 0h0m85 0h0m10 0h0m15 0h0m5 0h0m60 0h0m5 0h0m45 0h0m-352 1h0m10 0h0m80 0h0m45 0h0m20 0h0m100 0h0m25 0h0m5 0h0m10 0h0m20 0h0m-302 1h0m35 0h0m20 0h0m30 0h0m75 0h0m60 0h0m5 0h0m5 0h0m50 0h0m30 0h0m-312 1h0m5 0h0m55 0h0m5 0h0m15 0h0m5 0h0m5 0h0m95 0h0m45 0h0m5 0h0m35 0h0m15 0h0m5 0h0m15 0h0m75 0h0m25 0h0m-437 1h0m5 0h0m30 0h0m10 0h0m10 0h0m170 0h0m45 0h0m10 0h0m15 0h0m10 0h0m10 0h0m5 0h0m5 0h0m5 0h0m-287 1h0m40 0h0m5 0h0m10 0h0m170 0h0m40 0h0m5 0h0m10 0h0m-307 1h0m15 0h0m15 0h0m10 0h0m10 0h0m5 0h0m15 0h0m100 0h0m55 0h0m20 0h0m10 0h0m10 0h0m15 0h0m15 0h0m10 0h0m10 0h0m80 0h0m-342 1h0m15 0h0m15 0h0m50 0h0m110 0h0m35 0h0m10 0h0m15 0h0m15 0h0m40 0h0m-347 1h0m5 0h0m5 0h0m5 0h0m5 0h0m50 0h0m75 0h0m40 0h0m10 0h0m30 0h0m5 0h0m5 0h0m5 0h0m40 0h0m20 0h0m70 0h0m-372 1h0m50 0h0m15 0h0m175 0h0m25 0h0m45 0h0m-327 1h0m50 0h0m30 0h0m5 0h0m10 0h0m5 0h0m160 0h0m45 0h0m5 0h0m10 0h0m-282 1h0m5 0h0m10 0h0m10 0h0m30 0h0m170 0h0m5 0h0m10 0h0m15 0h0m10 0h0m-272 1h0m15 0h0m10 0h0m10 0h0m190 0h0m5 0h0m10 0h0m10 0h0m-207 1h0m5 0h0m5 0h0m10 0h0m160 0h0m40 0h0m10 0h0m5 0h0m10 0h0m-282 1h0m5 0h0m5 0h0m20 0h0m5 0h0m5 0h0m15 0h0m5 0h0m90 0h0m85 0h0m15 0h0m5 0h0m5 0h0m25 0h0m75 0h0m15 0h0m-427 1h0m45 0h0m5 0h0m5 0h0m20 0h0m25 0h0m5 0h0m15 0h0m150 0h0m5 0h0m25 0h0m25 0h0m5 0h0m-297 1h0m40 0h0m5 0h0m5 0h0m15 0h0m5 0h0m155 0h0m40 0h0m25 0h0m-302 1h0m25 0h0m20 0h0m25 0h0m10 0h0m25 0h0m10 0h0m35 0h0m120 0h0m45 0h0m15 0h0m10 0h0m-352 1h0m50 0h0m175 0h0m10 0h0m20 0h0m20 0h0m25 0h0m15 0h0m5 0h0m5 0h0m-307 1h0m10 0h0m25 0h0m20 0h0m10 0h0m5 0h0m20 0h0m135 0h0m10 0h0m75 0h0m-287 1h0m5 0h0m5 0h0m30 0h0m5 0h0m180 0h0m10 0h0m15 0h0m5 0h0m10 0h0m5 0h0m20 0h0m-272 1h0m10 0h0m35 0h0m155 0h0m25 0h0m10 0h0m5 0h0m30 0h0m10 0h0m-302 1h0m5 0h0m55 0h0m165 0h0m5 0h0m10 0h0m-237 1h0m35 0h0m5 0h0m20 0h0m5 0h0m30 0h0m100 0h0m30 0h0m30 0h0m5 0h0m5 0h0m20 0h0m-282 1h0m20 0h0m10 0h0m10 0h0m5 0h0m80 0h0m100 0h0m30 0h0m15 0h0m80 0h0m-372 1h0m40 0h0m10 0h0m90 0h0m135 0h0m90 0h0m-322 1h0m5 0h0m5 0h0m5 0h0m45 0h0m160 0h0m10 0h0m5 0h0m-247 1h0m5 0h0m20 0h0m5 0h0m5 0h0m85 0h0m105 0h0m5 0h0m5 0h0m15 0h0m5 0h0m5 0h0m85 0h0m-332 1h0m10 0h0m225 0h0m-227 1h0m5 0h0m5 0h0m5 0h0m215 0h0m-222 1h0m205 0h0m10 0h0m10 0h0m-262 1h0m15 0h0m5 0h0m10 0h0m25 0h0m170 0h0m10 0h0m5 0h0m5 0h0m35 0h0m-242 1h0m180 0h0m5 0h0m25 0h0m-242 1h0m20 0h0m5 0h0m15 0h0m185 0h0m10 0h0m-247 1h0m15 0h0m5 0h0m10 0h0m5 0h0m205 0h0m5 0h0m15 0h0m-252 1h0m5 0h0m5 0h0m30 0h0m185 0h0m40 0h0m-262 1h0m15 0h0m5 0h0m10 0h0m10 0h0m5 0h0m180 0h0m15 0h0m5 0h0m45 0h0m-57 1h0m-267 1h0m5 0h0m30 0h0m5 0h0m5 0h0m5 0h0m10 0h0m5 0h0m165 0h0m25 0h0m5 0h0m5 0h0m5 0h0m5 0h0m5 0h0m-257 1h0m20 0h0m30 0h0m185 0h0m25 0h0m15 0h0m-272 1h0m10 0h0m10 0h0m15 0h0m15 0h0m175 0h0m20 0h0m15 0h0m5 0h0m-217 1h0m225 0h0m-262 1h0m45 0h0m180 0h0m20 0h0m10 0h0m15 0h0m-257 1h0m205 0h0m20 0h0m60 0h0m-272 1h0m15 0h0m190 0h0m15 0h0m20 0h0m-257 1h0m225 0h0m5 0h0m-297 1h0m65 0h0m100 0h0m125 0h0m100 0h0m-342 1h0m15 0h0m5 0h0m5 0h0m10 0h0m30 0h0m160 0h0m10 0h0m15 0h0m10 0h0m30 0h0m-267 1h0m30 0h0m195 0h0m5 0h0m25 0h0m-257 1h0m5 0h0m225 0h0m5 0h0m-12 1h0m-222 1h0m225 0h0m10 0h0m-127 1h0m225 0h0m-344 2h0m23 1h0m5 0h0m220 0h0m-232 1h0m170 0h0m55 0h0m-222 1h0m-22 1h0m220 0h0m-249 2h0m45 0h0m180 0h0m45 0h0m-217 1h0m225 0h0m-237 1h0m225 0h0m-217 1h0m-13 4h0m225 0h0m-207 1h0m3 1h0m-22 1h0m225 0h0m-97 1h0m112 4h0m-231 3h0m-36 3h0m60 0h0m184 8h0m-187 1h0m4 3h0m-28 4h0m145 15h0m218 1h0m-107 6h0m47 9h0"/>
<path d="M217.5 76.5h0m321 27h0m-251 3h0m234 8h0m6 12h0m-412 1h0m106 2h0m58 1h0m267 9h0m-302 6h0m280 0h0m-207 1h0m-75 5h0m225 0h0m-277 1h0m-51 3h0m225 0h0m178 1h0m-289 2h0m225 0h0m-256 3h0m17 4h0m225 0h0m-359 2h0m225 0h0m175 0h0m-72 1h0m86 2h0m-407 1h0m225 0h0m-117 1h0m10 0h0m60 0h0m35 0h0m120 0h0m105 0h0m-434 2h0m135 0h0m225 0h0m-262 1h0m225 0h0m25 0h0m-344 2h0m115 0h0m25 0h0m55 0h0m15 0h0m130 0h0m25 0h0m55 0h0m-317 1h0m115 0h0m110 0h0m40 0h0m-342 1h0m65 0h0m160 0h0m65 0h0m-112 1h0m-97 1h0m25 0h0m55 0h0m145 0h0m20 0h0m60 0h0m-307 1h0m225 0h0m35 0h0m40 0h0m-384 2h0m160 0h0m225 0h0m10 0h0m-7 1h0m-412 1h0m145 0h0m80 0h0m-87 1h0m5 0h0m45 0h0m175 0h0m5 0h0m45 0h0m-339 2h0m90 0h0m-172 1h0m120 0h0m45 0h0m25 0h0m35 0h0m155 0h0m-222 1h0m20 0h0m10 0h0m25 0h0m190 0h0m35 0h0m-437 1h0m225 0h0m145 0h0m-207 1h0m40 0h0m170 0h0m15 0h0m20 0h0m-257 1h0m225 0h0m25 0h0m-377 1h0m185 0h0m40 0h0m165 0h0m15 0h0m-347 1h0m55 0h0m65 0h0m105 0h0m95 0h0m25 0h0m-397 1h0m160 0h0m5 0h0m215 0h0m5 0h0m-322 1h0m125 0h0m150 0h0m25 0h0m35 0h0m15 0h0m-272 1h0m10 0h0m215 0h0m10 0h0m15 0h0m-427 1h0m140 0h0m20 0h0m65 0h0m140 0h0m20 0h0m45 0h0m5 0h0m-307 1h0m5 0h0m10 0h0m5 0h0m5 0h0m20 0h0m185 0h0m15 0h0m-327 1h0m50 0h0m45 0h0m70 0h0m25 0h0m35 0h0m50 0h0m45 0h0m-222 1h0m40 0h0m5 0h0m5 0h0m5 0h0m75 0h0m65 0h0m75 0h0m5 0h0m5 0h0m15 0h0m-427 1h0m30 0h0m95 0h0m40 0h0m15 0h0m5 0h0m40 0h0m15 0h0m140 0h0m-217 1h0m25 0h0m225 0h0m-372 1h0m115 0h0m5 0h0m15 0h0m85 0h0m5 0h0m95 0h0m25 0h0m10 0h0m30 0h0m10 0h0m-392 1h0m125 0h0m5 0h0m10 0h0m15 0h0m135 0h0m65 0h0m10 0h0m15 0h0m-312 1h0m40 0h0m5 0h0m5 0h0m20 0h0m5 0h0m10 0h0m10 0h0m5 0h0m10 0h0m115 0h0m30 0h0m10 0h0m10 0h0m20 0h0m5 0h0m25 0h0m-442 1h0m210 0h0m15 0h0m40 0h0m95 0h0m5 0h0m70 0h0m-417 1h0m90 0h0m15 0h0m25 0h0m5 0h0m10 0h0m10 0h0m175 0h0m10 0h0m10 0h0m5 0h0m5 0h0m10 0h0m10 0h0m20 0h0m-307 1h0m15 0h0m20 0h0m5 0h0m20 0h0m5 0h0m10 0h0m5 0h0m145 0h0m15 0h0m25 0h0m10 0h0m45 0h0m-267 1h0m40 0h0m30 0h0m105 0h0m30 0h0m5 0h0m15 0h0m-357 1h0m100 0h0m10 0h0m15 0h0m20 0h0m15 0h0m10 0h0m55 0h0m55 0h0m45 0h0m25 0h0m15 0h0m5 0h0m5 0h0m10 0h0m-342 1h0m55 0h0m5 0h0m20 0h0m20 0h0m10 0h0m5 0h0m5 0h0m5 0h0m5 0h0m25 0h0m70 0h0m55 0h0m5 0h0m40 0h0m5 0h0m20 0h0m10 0h0m5 0h0m-302 1h0m20 0h0m5 0h0m180 0h0m20 0h0m5 0h0m60 0h0m-297 1h0m10 0h0m5 0h0m5 0h0m5 0h0m10 0h0m10 0h0m10 0h0m5 0h0m5 0h0m5 0h0m5 0h0m10 0h0m135 0h0m5 0h0m25 0h0m10 0h0m20 0h0m5 0h0m5 0h0m5 0h0m5 0h0m10 0h0m-447 1h0m5 0h0m5 0h0m20 0h0m5 0h0m105 0h0m10 0h0m5 0h0m10 0h0m15 0h0m5 0h0m10 0h0m35 0h0m30 0h0m115 0h0m5 0h0m5 0h0m5 0h0m10 0h0m5 0h0m15 0h0m10 0h0m15 0h0m-422 1h0m145 0h0m10 0h0m5 0h0m10 0h0m35 0h0m20 0h0m70 0h0m50 0h0m30 0h0m5 0h0m5 0h0m-382 1h0m35 0h0m70 0h0m5 0h0m5 0h0m15 0h0m5 0h0m55 0h0m5 0h0m15 0h0m35 0h0m85 0h0m5 0h0m5 0h0m15 0h0m50 0h0m10 0h0m5 0h0m-442 1h0m25 0h0m20 0h0m75 0h0m15 0h0m10 0h0m10 0h0m5 0h0m25 0h0m10 0h0m10 0h0m155 0h0m5 0h0m15 0h0m5 0h0m35 0h0m10 0h0m5 0h0m5 0h0m-442 1h0m30 0h0m60 0h0m45 0h0m30 0h0m10 0h0m5 0h0m5 0h0m5 0h0m20 0h0m15 0h0m30 0h0m75 0h0m25 0h0m25 0h0m25 0h0m5 0h0m5 0h0m10 0h0m10 0h0m10 0h0m-447 1h0m15 0h0m100 0h0m10 0h0m15 0h0m5 0h0m10 0h0m15 0h0m5 0h0m55 0h0m10 0h0m40 0h0m60 0h0m5 0h0m20 0h0m5 0h0m10 0h0m10 0h0m5 0h0m5 0h0m10 0h0m20 0h0m5 0h0m10 0h0m-442 1h0m55 0h0m75 0h0m5 0h0m10 0h0m5 0h0m10 0h0m15 0h0m10 0h0m10 0h0m20 0h0m5 0h0m5 0h0m70 0h0m55 0h0m20 0h0m5 0h0m10 0h0m15 0h0m5 0h0m5 0h0m10 0h0m15 0h0m5 0h0m5 0h0m-447 1h0m10 0h0m10 0h0m100 0h0m5 0h0m15 0h0m5 0h0m10 0h0m10 0h0m5 0h0m5 0h0m20 0h0m5 0h0m20 0h0m95 0h0m35 0h0m15 0h0m15 0h0m10 0h0m15 0h0m15 0h0m5 0h0m15 0h0m5 0h0m-432 1h0m5 0h0m10 0h0m90 0h0m5 0h0m5 0h0m10 0h0m5 0h0m5 0h0m5 0h0m15 0h0m20 0h0m10 0h0m10 0h0m25 0h0m5 0h0m100 0h0m5 0h0m5 0h0m25 0h0m10 0h0m30 0h0m-407 1h0m125 0h0m5 0h0m5 0h0m10 0h0m10 0h0m40 0h0m5 0h0m5 0h0m145 0h0m10 0h0m10 0h0m15 0h0m15 0h0m5 0h0m5 0h0m10 0h0m5 0h0m5 0h0m-437 1h0m15 0h0m35 0h0m50 0h0m35 0h0m5 0h0m10 0h0m45 0h0m10 0h0m35 0h0m120 0h0m60 0h0m15 0h0m-317 1h0m40 0h0m10 0h0m5 0h0m15 0h0m15 0h0m20 0h0m15 0h0m10 0h0m100 0h0m75 0h0m5 0h0m20 0h0m-447 1h0m10 0h0m120 0h0m5 0h0m10 0h0m20 0h0m5 0h0m5 0h0m5 0h0m5 0h0m10 0h0m10 0h0m5 0h0m25 0h0m10 0h0m15 0h0m90 0h0m5 0h0m15 0h0m25 0h0m10 0h0m15 0h0m10 0h0m10 0h0m-427 1h0m5 0h0m25 0h0m95 0h0m5 0h0m5 0h0m15 0h0m35 0h0m10 0h0m10 0h0m140 0h0m15 0h0m15 0h0m10 0h0m25 0h0m10 0h0m-417 1h0m155 0h0m5 0h0m10 0h0m5 0h0m15 0h0m5 0h0m5 0h0m5 0h0m50 0h0m85 0h0m5 0h0m5 0h0m25 0h0m5 0h0m15 0h0m15 0h0m5 0h0m5 0h0m5 0h0m-427 1h0m95 0h0m15 0h0m5 0h0m5 0h0m5 0h0m15 0h0m5 0h0m5 0h0m5 0h0m5 0h0m10 0h0m15 0h0m10 0h0m25 0h0m15 0h0m20 0h0m75 0h0m10 0h0m5 0h0m5 0h0m15 0h0m10 0h0m10 0h0m40 0h0m-442 1h0m5 0h0m10 0h0m5 0h0m85 0h0m20 0h0m20 0h0m5 0h0m5 0h0m15 0h0m15 0h0m10 0h0m20 0h0m15 0h0m5 0h0m5 0h0m5 0h0m15 0h0m70 0h0m20 0h0m20 0h0m5 0h0m20 0h0m25 0h0m15 0h0m5 0h0m-437 1h0m35 0h0m5 0h0m85 0h0m30 0h0m5 0h0m20 0h0m5 0h0m15 0h0m10 0h0m5 0h0m10 0h0m5 0h0m15 0h0m5 0h0m10 0h0m90 0h0m30 0h0m25 0h0m5 0h0m5 0h0m20 0h0m5 0h0m-442 1h0m5 0h0m20 0h0m5 0h0m10 0h0m65 0h0m30 0h0m5 0h0m5 0h0m5 0h0m15 0h0m10 0h0m10 0h0m5 0h0m10 0h0m15 0h0m10 0h0m5 0h0m20 0h0m5 0h0m5 0h0m5 0h0m60 0h0m5 0h0m5 0h0m25 0h0m5 0h0m10 0h0m10 0h0m5 0h0m10 0h0m10 0h0m10 0h0m5 0h0m15 0h0m5 0h0m-442 1h0m5 0h0m10 0h0m10 0h0m75 0h0m15 0h0m5 0h0m10 0h0m20 0h0m50 0h0m20 0h0m5 0h0m15 0h0m10 0h0m80 0h0m5 0h0m5 0h0m15 0h0m25 0h0m45 0h0m5 0h0m10 0h0m-442 1h0m5 0h0m5 0h0m10 0h0m5 0h0m100 0h0m20 0h0m10 0h0m5 0h0m15 0h0m50 0h0m5 0h0m10 0h0m5 0h0m5 0h0m75 0h0m25 0h0m20 0h0m15 0h0m15 0h0m15 0h0m20 0h0m5 0h0m-422 1h0m10 0h0m15 0h0m25 0h0m30 0h0m5 0h0m35 0h0m15 0h0m5 0h0m15 0h0m20 0h0m5 0h0m10 0h0m5 0h0m5 0h0m5 0h0m15 0h0m15 0h0m5 0h0m10 0h0m25 0h0m30 0h0m5 0h0m25 0h0m10 0h0m10 0h0m5 0h0m5 0h0m10 0h0m5 0h0m10 0h0m10 0h0m5 0h0m10 0h0m5 0h0m5 0h0m5 0h0m-437 1h0m5 0h0m5 0h0m15 0h0m5 0h0m5 0h0m70 0h0m5 0h0m5 0h0m5 0h0m15 0h0m5 0h0m5 0h0m45 0h0m35 0h0m5 0h0m5 0h0m85 0h0m10 0h0m5 0h0m5 0h0m5 0h0m15 0h0m5 0h0m5 0h0m-377 1h0m10 0h0m5 0h0m5 0h0m5 0h0m15 0h0m65 0h0m10 0h0m5 0h0m45 0h0m5 0h0m10 0h0m15 0h0m30 0h0m10 0h0m5 0h0m5 0h0m15 0h0m5 0h0m65 0h0m5 0h0m5 0h0m25 0h0m5 0h0m20 0h0m5 0h0m-397 1h0m5 0h0m15 0h0m15 0h0m10 0h0m65 0h0m35 0h0m5 0h0m20 0h0m30 0h0m25 0h0m5 0h0m20 0h0m10 0h0m10 0h0m65 0h0m25 0h0m10 0h0m20 0h0m5 0h0m10 0h0m20 0h0m15 0h0m-427 1h0m5 0h0m5 0h0m35 0h0m70 0h0m15 0h0m95 0h0m10 0h0m105 0h0m20 0h0m70 0h0m-437 1h0m5 0h0m25 0h0m15 0h0m60 0h0m5 0h0m5 0h0m15 0h0m5 0h0m10 0h0m5 0h0m40 0h0m25 0h0m10 0h0m5 0h0m5 0h0m35 0h0m60 0h0m5 0h0m5 0h0m15 0h0m5 0h0m10 0h0m5 0h0m40 0h0m25 0h0m-442 1h0m10 0h0m35 0h0m50 0h0m30 0h0m5 0h0m50 0h0m15 0h0m30 0h0m10 0h0m10 0h0m5 0h0m90 0h0m5 0h0m20 0h0m-367 1h0m15 0h0m5 0h0m10 0h0m10 0h0m60 0h0m5 0h0m25 0h0m5 0h0m10 0h0m10 0h0m5 0h0m5 0h0m60 0h0m20 0h0m10 0h0m10 0h0m65 0h0m20 0h0m10 0h0m10 0h0m10 0h0m5 0h0m10 0h0m30 0h0m10 0h0m-427 1h0m10 0h0m5 0h0m5 0h0m5 0h0m50 0h0m30 0h0m20 0h0m5 0h0m10 0h0m25 0h0m20 0h0m40 0h0m10 0h0m5 0h0m5 0h0m5 0h0m50 0h0m30 0h0m20 0h0m5 0h0m20 0h0m-377 1h0m15 0h0m5 0h0m10 0h0m70 0h0m5 0h0m10 0h0m65 0h0m25 0h0m10 0h0m5 0h0m5 0h0m20 0h0m5 0h0m5 0h0m70 0h0m15 0h0m-337 1h0m5 0h0m15 0h0m5 0h0m10 0h0m55 0h0m5 0h0m45 0h0m55 0h0m30 0h0m5 0h0m15 0h0m10 0h0m60 0h0m5 0h0m60 0h0m-392 1h0m20 0h0m15 0h0m80 0h0m5 0h0m65 0h0m20 0h0m5 0h0m15 0h0m20 0h0m90 0h0m5 0h0m5 0h0m65 0h0m15 0h0m-427 1h0m20 0h0m5 0h0m15 0h0m10 0h0m25 0h0m20 0h0m10 0h0m10 0h0m5 0h0m5 0h0m125 0h0m25 0h0m45 0h0m10 0h0m15 0h0m5 0h0m10 0h0m10 0h0m-362 1h0m5 0h0m10 0h0m30 0h0m35 0h0m5 0h0m5 0h0m5 0h0m25 0h0m30 0h0m80 0h0m10 0h0m30 0h0m35 0h0m10 0h0m5 0h0m20 0h0m35 0h0m-332 1h0m75 0h0m35 0h0m110 0h0m5 0h0m5 0h0m55 0h0m15 0h0m30 0h0m5 0h0m30 0h0m-367 1h0m10 0h0m25 0h0m45 0h0m5 0h0m15 0h0m35 0h0m10 0h0m5 0h0m75 0h0m10 0h0m25 0h0m100 0h0m10 0h0m5 0h0m-412 1h0m15 0h0m10 0h0m5 0h0m15 0h0m70 0h0m10 0h0m20 0h0m5 0h0m45 0h0m10 0h0m5 0h0m10 0h0m20 0h0m10 0h0m5 0h0m90 0h0m25 0h0m5 0h0m45 0h0m10 0h0m5 0h0m-437 1h0m40 0h0m30 0h0m5 0h0m20 0h0m25 0h0m5 0h0m55 0h0m45 0h0m40 0h0m30 0h0m30 0h0m20 0h0m5 0h0m55 0h0m-397 1h0m20 0h0m5 0h0m5 0h0m60 0h0m10 0h0m15 0h0m35 0h0m75 0h0m25 0h0m5 0h0m60 0h0m-332 1h0m5 0h0m20 0h0m10 0h0m10 0h0m5 0h0m55 0h0m5 0h0m95 0h0m20 0h0m5 0h0m25 0h0m15 0h0m5 0h0m60 0h0m30 0h0m5 0h0m35 0h0m-407 1h0m40 0h0m10 0h0m5 0h0m55 0h0m10 0h0m15 0h0m35 0h0m45 0h0m25 0h0m20 0h0m20 0h0m45 0h0m10 0h0m10 0h0m15 0h0m35 0h0m-377 1h0m35 0h0m50 0h0m10 0h0m110 0h0m20 0h0m15 0h0m5 0h0m5 0h0m70 0h0m75 0h0m5 0h0m30 0h0m-427 1h0m5 0h0m10 0h0m10 0h0m35 0h0m45 0h0m20 0h0m80 0h0m20 0h0m5 0h0m10 0h0m5 0h0m25 0h0m15 0h0m35 0h0m105 0h0m-412 1h0m20 0h0m50 0h0m10 0h0m145 0h0m5 0h0m10 0h0m5 0h0m45 0h0m5 0h0m10 0h0m15 0h0m20 0h0m-332 1h0m15 0h0m50 0h0m95 0h0m35 0h0m20 0h0m35 0h0m35 0h0m5 0h0m15 0h0m80 0h0m-392 1h0m65 0h0m15 0h0m20 0h0m10 0h0m115 0h0m65 0h0m35 0h0m10 0h0m40 0h0m-382 1h0m5 0h0m20 0h0m5 0h0m5 0h0m35 0h0m5 0h0m150 0h0m20 0h0m10 0h0m30 0h0m65 0h0m-332 1h0m5 0h0m45 0h0m15 0h0m65 0h0m95 0h0m50 0h0m25 0h0m5 0h0m-317 1h0m20 0h0m25 0h0m30 0h0m35 0h0m15 0h0m100 0h0m20 0h0m5 0h0m15 0h0m5 0h0m-277 1h0m20 0h0m15 0h0m5 0h0m10 0h0m10 0h0m5 0h0m10 0h0m5 0h0m10 0h0m10 0h0m125 0h0m5 0h0m10 0h0m5 0h0m40 0h0m5 0h0m10 0h0m5 0h0m10 0h0m50 0h0m20 0h0m-397 1h0m60 0h0m20 0h0m110 0h0m35 0h0m30 0h0m35 0h0m125 0h0m-422 1h0m20 0h0m25 0h0m35 0h0m40 0h0m105 0h0m35 0h0m45 0h0m20 0h0m20 0h0m5 0h0m-332 1h0m25 0h0m5 0h0m15 0h0m25 0h0m15 0h0m10 0h0m45 0h0m75 0h0m10 0h0m20 0h0m25 0h0m40 0h0m10 0h0m-297 1h0m20 0h0m5 0h0m20 0h0m10 0h0m40 0h0m130 0h0m20 0h0m5 0h0m20 0h0m10 0h0m40 0h0m-322 1h0m55 0h0m10 0h0m155 0h0m5 0h0m30 0h0m35 0h0m-292 1h0m5 0h0m60 0h0m195 0h0m15 0h0m15 0h0m-307 1h0m25 0h0m200 0h0m20 0h0m5 0h0m5 0h0m50 0h0m115 0h0m-437 1h0m10 0h0m25 0h0m15 0h0m185 0h0m15 0h0m25 0h0m25 0h0m15 0h0m-287 1h0m20 0h0m25 0h0m20 0h0m5 0h0m10 0h0m125 0h0m20 0h0m30 0h0m15 0h0m20 0h0m5 0h0m5 0h0m5 0h0m-332 1h0m30 0h0m25 0h0m10 0h0m45 0h0m115 0h0m30 0h0m15 0h0m5 0h0m5 0h0m15 0h0m30 0h0m10 0h0m-262 1h0m5 0h0m15 0h0m185 0h0m10 0h0m10 0h0m20 0h0m-292 1h0m40 0h0m10 0h0m10 0h0m45 0h0m80 0h0m90 0h0m5 0h0m10 0h0m10 0h0m110 0h0m-387 1h0m15 0h0m15 0h0m190 0h0m5 0h0m5 0h0m10 0h0m15 0h0m5 0h0m15 0h0m-292 1h0m5 0h0m10 0h0m165 0h0m5 0h0m40 0h0m5 0h0m10 0h0m65 0h0m-332 1h0m35 0h0m25 0h0m5 0h0m160 0h0m35 0h0m25 0h0m5 0h0m5 0h0m20 0h0m-327 1h0m60 0h0m5 0h0m15 0h0m5 0h0m15 0h0m125 0h0m20 0h0m25 0h0m15 0h0m5 0h0m15 0h0m5 0h0m5 0h0m10 0h0m35 0h0m35 0h0m-367 1h0m25 0h0m5 0h0m5 0h0m5 0h0m20 0h0m10 0h0m5 0h0m180 0h0m10 0h0m35 0h0m-322 1h0m15 0h0m40 0h0m5 0h0m5 0h0m5 0h0m155 0h0m15 0h0m40 0h0m5 0h0m10 0h0m5 0h0m10 0h0m5 0h0m20 0h0m-307 1h0m20 0h0m30 0h0m190 0h0m5 0h0m30 0h0m5 0h0m5 0h0m-272 1h0m10 0h0m10 0h0m205 0h0m-252 1h0m15 0h0m20 0h0m20 0h0m15 0h0m35 0h0m120 0h0m30 0h0m5 0h0m20 0h0m15 0h0m15 0h0m20 0h0m-267 1h0m10 0h0m10 0h0m205 0h0m10 0h0m10 0h0m10 0h0m30 0h0m-302 1h0m10 0h0m5 0h0m10 0h0m5 0h0m5 0h0m190 0h0m5 0h0m5 0h0m15 0h0m-252 1h0m10 0h0m10 0h0m5 0h0m165 0h0m35 0h0m5 0h0m5 0h0m5 0h0m5 0h0m-257 1h0m10 0h0m30 0h0m45 0h0m160 0h0m15 0h0m5 0h0m40 0h0m5 0h0m-347 1h0m65 0h0m55 0h0m105 0h0m120 0h0m-292 1h0m5 0h0m25 0h0m195 0h0m5 0h0m10 0h0m-252 1h0m10 0h0m5 0h0m10 0h0m5 0h0m5 0h0m190 0h0m10 0h0m5 0h0m10 0h0m5 0h0m5 0h0m5 0h0m-277 1h0m5 0h0m10 0h0m5 0h0m5 0h0m15 0h0m200 0h0m10 0h0m15 0h0m5 0h0m-252 1h0m10 0h0m215 0h0m10 0h0m10 0h0m-257 1h0m15 0h0m5 0h0m5 0h0m10 0h0m5 0h0m200 0h0m10 0h0m10 0h0m5 0h0m-267 1h0m15 0h0m10 0h0m5 0h0m15 0h0m180 0h0m25 0h0m5 0h0m5 0h0m15 0h0m-277 1h0m5 0h0m10 0h0m25 0h0m185 0h0m5 0h0m25 0h0m-247 1h0m15 0h0m215 0h0m5 0h0m5 0h0m-242 1h0m20 0h0m25 0h0m185 0h0m15 0h0m5 0h0m10 0h0m10 0h0m5 0h0m-267 1h0m20 0h0m40 0h0m185 0h0m40 0h0m-282 1h0m10 0h0m5 0h0m170 0h0m40 0h0m15 0h0m5 0h0m5 0h0m-257 1h0m15 0h0m20 0h0m20 0h0m160 0h0m10 0h0m10 0h0m45 0h0m-327 1h0m60 0h0m10 0h0m155 0h0m50 0h0m10 0h0m10 0h0m20 0h0m-262 1h0m10 0h0m20 0h0m225 0h0m-247 1h0m20 0h0m225 0h0m-252 1h0m10 0h0m15 0h0m85 0h0m115 0h0m10 0h0m15 0h0m85 0h0m-327 1h0m15 0h0m30 0h0m195 0h0m-262 1h0m35 0h0m115 0h0m75 0h0m35 0h0m115 0h0m-347 1h0m5 0h0m145 0h0m80 0h0m-257 1h0m225 0h0m15 0h0m5 0h0m15 0h0m-224 2h0m210 0h0m5 0h0m-217 1h0m-62 1h0m33 1h0m15 0h0m11 2h0m205 0h0m-217 1h0m245 0h0m-242 1h0m20 0h0m205 0h0m20 0h0m-12 1h0m-252 1h0m5 0h0m225 0h0m-212 1h0m16 2h0m60 0h0m225 0h0m-269 2h0m200 0h0m-243 4h0m225 0h0m-192 1h0m215 0h0m3 1h0m-254 2h0m10 0h0m215 0h0m135 0h0m-332 1h0m225 0h0m-303 4h0m28 1h0m263 1h0m-234 2h0m198 1h0m60 0h0m-3 9h0m4 3h0m-119 2h0m91 2h0m-271 8h0m76 7h0m340 0h0m-384 7h0m-56 18h0"/>
<path d="M525.5 190.5h0m-237 1h0m225 0h0m-186 3h0m204 3h0m-222 1h0m-31 3h0m205 0h0m20 0h0m-229 2h0m18 1h0m215 0h0m-2 1h0m-6 3h0m40 0h0m-257 1h0m-7 1h0m225 0h0m8 1h0m15 0h0m-209 2h0m225 0h0m-287 1h0m75 0h0m195 0h0m10 0h0m20 0h0m-287 1h0m10 0h0m40 0h0m175 0h0m10 0h0m-262 1h0m275 0h0m-182 1h0m140 0h0m45 0h0m-252 1h0m10 0h0m45 0h0m180 0h0m-222 1h0m5 0h0m5 0h0m220 0h0m40 0h0m-437 1h0m140 0h0m205 0h0m-352 1h0m20 0h0m160 0h0m225 0h0m-232 1h0m5 0h0m5 0h0m-22 1h0m225 0h0m-202 1h0m185 0h0m28 1h0m40 0h0m-257 1h0m210 0h0m15 0h0m-257 1h0m60 0h0m20 0h0m205 0h0m-422 1h0m130 0h0m5 0h0m45 0h0m180 0h0m30 0h0m15 0h0m-292 1h0m225 0h0m15 0h0m30 0h0m45 0h0m-237 1h0m170 0h0m20 0h0m35 0h0m-222 1h0m-202 1h0m150 0h0m75 0h0m15 0h0m195 0h0m-272 1h0m245 0h0m-407 1h0m215 0h0m10 0h0m215 0h0m-317 1h0m225 0h0m-197 1h0m10 0h0m80 0h0m105 0h0m30 0h0m-377 1h0m10 0h0m70 0h0m60 0h0m30 0h0m55 0h0m10 0h0m160 0h0m-362 1h0m8 1h0m95 0h0m30 0h0m100 0h0m80 0h0m15 0h0m-232 1h0m225 0h0m-199 2h0m55 0h0m170 0h0m55 0h0m-302 1h0m225 0h0m20 0h0m-347 1h0m80 0h0m245 0h0m-342 1h0m110 0h0m90 0h0m175 0h0m-382 1h0m240 0h0m193 1h0m-292 1h0m115 0h0m-117 1h0m115 0h0m91 2h0m-332 1h0m5 0h0m10 0h0m95 0h0m-79 2h0m90 0h0m-117 1h0m125 0h0m225 0h0m-262 1h0m220 0h0m-172 1h0m-157 1h0m125 0h0m225 0h0m-311 3h0m10 0h0m215 0h0m10 0h0m-229 2h0m-7 1h0m235 0h0m10 0h0m35 0h0m5 0h0m-52 1h0m-169 2h0m220 0h0m5 0h0m-12 1h0m-282 1h0m225 0h0m15 0h0m-237 1h0m50 0h0m175 0h0m-159 2h0m-46 3h0m225 0h0m-224 2h0m30 0h0m195 0h0m-188 4h0m225 0h0m-292 1h0m225 0h0m26 2h0m10 0h0m-252 1h0m25 0h0m218 1h0m-227 1h0m15 0h0m210 0h0m15 0h0m-237 1h0m23 1h0m225 0h0m5 0h0m-262 1h0m260 0h0m-237 1h0m36 2h0m225 0h0m-247 1h0m240 0h0m-267 1h0m225 0h0m29 3h0m-227 1h0m13 1h0m183 1h0m-222 1h0m259 3h0m-249 2h0m220 0h0m5 0h0m5 0h0m-2 1h0m-224 7h0m225 0h0"/>
<path d="M547.5 192.5h0m-29 12h0m-191 3h0m225 0h0m-244 2h0m200 0h0m-212 1h0m16 2h0m225 0h0m-314 2h0m70 0h0m-187 1h0m160 0h0m55 0h0m170 0h0m50 0h0m5 0h0m-437 1h0m5 0h0m220 0h0m5 0h0m-232 1h0m165 0h0m10 0h0m225 0h0m-377 1h0m105 0h0m35 0h0m45 0h0m-22 1h0m220 0h0m-267 1h0m45 0h0m5 0h0m40 0h0m135 0h0m5 0h0m-147 1h0m20 0h0m-112 1h0m55 0h0m225 0h0m-287 1h0m275 0h0m30 0h0m-417 1h0m100 0h0m55 0h0m225 0h0m-387 1h0m140 0h0m15 0h0m50 0h0m-192 1h0m200 0h0m25 0h0m165 0h0m-232 1h0m195 0h0m-362 1h0m225 0h0m130 0h0m-244 2h0m130 0h0m-67 1h0m5 0h0m185 0h0m55 0h0m-417 1h0m430 0h0m-422 1h0m145 0h0m225 0h0m-387 1h0m40 0h0m105 0h0m30 0h0m50 0h0m40 0h0m93 1h0m10 0h0m-342 1h0m350 0h0m65 0h0m-302 1h0m225 0h0m10 0h0m-262 1h0m5 0h0m110 0h0m-197 1h0m73 1h0m-107 1h0m225 0h0m-207 1h0m10 0h0m80 0h0m135 0h0m95 0h0m-337 1h0m25 0h0m95 0h0m115 0h0m15 0h0m40 0h0m55 0h0m95 0h0m-407 1h0m5 0h0m140 0h0m15 0h0m65 0h0m80 0h0m-292 1h0m60 0h0m15 0h0m120 0h0m110 0h0m-217 1h0m225 0h0m-357 1h0m35 0h0m85 0h0m105 0h0m35 0h0m95 0h0m-102 1h0m83 1h0m-304 2h0m5 0h0m80 0h0m-102 1h0m225 0h0m85 0h0m30 0h0m-327 1h0m15 0h0m303 1h0m-312 1h0m5 0h0m20 0h0m40 0h0m150 0h0m10 0h0m25 0h0m-77 1h0m120 0h0m-292 1h0m225 0h0m125 0h0m-132 1h0m-187 1h0m38 1h0m180 0h0m-242 1h0m50 0h0m175 0h0m-167 1h0m225 0h0m25 0h0m-307 1h0m145 0h0m70 0h0m155 0h0m-372 1h0m65 0h0m160 0h0m-229 2h0m65 0h0m160 0h0m-211 3h0m10 0h0m225 0h0m28 1h0m-274 2h0m20 0h0m30 0h0m5 0h0m170 0h0m65 0h0m-299 2h0m253 1h0m-226 3h0m-22 1h0m48 1h0m-24 2h0m25 0h0m221 2h0m-17 1h0m-202 1h0m-17 1h0m225 0h0m-12 1h0m-223 4h0m225 0h0m25 0h0m1 2h0m-242 1h0m20 0h0m195 0h0m10 0h0m-219 2h0m220 0h0m-215 5h0m225 0h0m-232 1h0m225 0h0m-9 2h0m-222 1h0m225 0h0m-210 5h0m-19 7h0m225 0h0m-202 1h0"/>
<path d="M267.5 165.5h0m14 33h0m214 3h0m36 2h0m-266 3h0m220 0h0m-224 2h0m25 0h0m5 0h0m165 0h0m55 0h0m5 0h0m-2 1h0m20 0h0m-262 1h0m250 0h0m-47 1h0m-182 1h0m225 0h0m-209 2h0m25 0h0m190 0h0m-212 1h0m20 0h0m150 0h0m50 0h0m-232 1h0m225 0h0m-217 1h0m190 0h0m-157 1h0m15 0h0m163 1h0m-257 1h0m-127 1h0m-22 1h0m180 0h0m40 0h0m5 0h0m180 0h0m-397 1h0m105 0h0m120 0h0m-107 1h0m10 0h0m20 0h0m60 0h0m15 0h0m110 0h0m10 0h0m10 0h0m20 0h0m-242 1h0m85 0h0m130 0h0m10 0h0m10 0h0m55 0h0m-327 1h0m90 0h0m135 0h0m20 0h0m70 0h0m10 0h0m5 0h0m-437 1h0m363 1h0m60 0h0m-427 1h0m15 0h0m10 0h0m135 0h0m63 1h0m125 0h0m100 0h0m-312 1h0m225 0h0m55 0h0m-302 1h0m15 0h0m45 0h0m65 0h0m160 0h0m-367 1h0m190 0h0m25 0h0m10 0h0m165 0h0m-417 1h0m225 0h0m175 0h0m-227 1h0m225 0h0m25 0h0m-424 2h0m15 0h0m100 0h0m55 0h0m170 0h0m55 0h0m-57 1h0m-82 1h0m175 0h0m-302 1h0m200 0h0m25 0h0m-217 1h0m65 0h0m15 0h0m145 0h0m80 0h0m-192 1h0m80 0h0m20 0h0m-332 1h0m205 0h0m20 0h0m-237 1h0m360 0h0m35 0h0m15 0h0m-402 1h0m115 0h0m30 0h0m45 0h0m65 0h0m60 0h0m25 0h0m75 0h0m-397 1h0m95 0h0m80 0h0m40 0h0m185 0h0m-397 1h0m72 4h0m5 0h0m145 0h0m67 4h0m-282 1h0m-22 1h0m5 0h0m85 0h0m3 1h0m225 0h0m-217 1h0m-12 1h0m15 0h0m210 0h0m-312 1h0m65 0h0m160 0h0m80 0h0m-292 1h0m225 0h0m75 0h0m-222 1h0m205 0h0m13 1h0m-277 1h0m-7 1h0m225 0h0m65 0h0m-236 3h0m-39 2h0m25 0h0m200 0h0m25 0h0m-202 1h0m205 0h0m5 0h0m-287 1h0m225 0h0m20 0h0m-232 1h0m210 0h0m180 0h0m-397 1h0m225 0h0m-214 2h0m225 0h0m-189 2h0m225 0h0m-252 1h0m45 0h0m180 0h0m45 0h0m-44 2h0m25 0h0m-267 1h0m225 0h0m20 0h0m-187 1h0m28 1h0m155 0h0m70 0h0m-277 1h0m10 0h0m215 0h0m10 0h0m-272 1h0m40 0h0m195 0h0m-199 2h0m-17 1h0m225 0h0m-212 1h0m225 0h0m-232 1h0m233 1h0m-214 2h0m-7 1h0m201 2h0m-212 1h0m228 1h0m-217 1h0m225 0h0m-32 1h0m35 0h0m-218 4h0m-8 4h0m225 0h0m-246 3h0m18 1h0m-9 2h0m244 3h0m-44 2h0"/>
<path d="M493.5 165.5h0m-13 9h0m-218 4h0m36 17h0m-46 3h0m15 0h0m225 0h0m-230 5h0m225 0h0m13 1h0m-9 2h0m-164 2h0m161 2h0m-237 1h0m20 0h0m205 0h0m-222 1h0m-57 1h0m293 1h0m45 0h0m3 1h0m-292 1h0m225 0h0m-192 1h0m195 0h0m60 0h0m-257 1h0m43 1h0m195 0h0m10 0h0m-277 1h0m75 0h0m-92 1h0m30 0h0m45 0h0m150 0h0m30 0h0m15 0h0m25 0h0m-257 1h0m5 0h0m225 0h0m20 0h0m25 0h0m-244 2h0m40 0h0m125 0h0m50 0h0m10 0h0m-237 1h0m225 0h0m-217 1h0m18 1h0m45 0h0m180 0h0m-252 1h0m205 0h0m20 0h0m-272 1h0m90 0h0m135 0h0m20 0h0m5 0h0m25 0h0m-292 1h0m90 0h0m135 0h0m80 0h0m-222 1h0m5 0h0m220 0h0m5 0h0m-92 1h0m15 0h0m70 0h0m-412 1h0m195 0h0m5 0h0m25 0h0m15 0h0m85 0h0m-317 1h0m198 1h0m135 0h0m-337 1h0m10 0h0m5 0h0m215 0h0m10 0h0m-82 1h0m40 0h0m15 0h0m15 0h0m-212 1h0m115 0h0m20 0h0m45 0h0m-92 1h0m225 0h0m-317 1h0m110 0h0m5 0h0m110 0h0m105 0h0m5 0h0m-227 1h0m-102 1h0m185 0h0m30 0h0m10 0h0m185 0h0m-427 1h0m103 1h0m25 0h0m58 1h0m40 0h0m205 0h0m-332 1h0m145 0h0m95 0h0m-317 1h0m280 0h0m20 0h0m-322 1h0m10 0h0m15 0h0m210 0h0m103 1h0m-14 2h0m-327 1h0m30 0h0m195 0h0m8 1h0m-19 2h0m-187 1h0m230 0h0m-22 1h0m5 0h0m85 0h0m-307 1h0m225 0h0m25 0h0m60 0h0m-232 1h0m3 1h0m170 0h0m-252 1h0m15 0h0m270 0h0m-192 1h0m225 0h0m-312 1h0m225 0h0m80 0h0m-59 2h0m48 1h0m-1 3h0m-234 2h0m180 0h0m40 0h0m5 0h0m-267 1h0m225 0h0m-202 1h0m183 1h0m15 0h0m-164 2h0m-57 1h0m5 0h0m13 1h0m28 1h0m225 0h0m-262 1h0m250 0h0m-14 2h0m-232 1h0m70 0h0m155 0h0m38 1h0m-247 1h0m13 1h0m198 1h0m15 0h0m-224 2h0m220 0h0m5 0h0m-212 1h0m225 0h0m-292 1h0m43 1h0m220 0h0m18 1h0m-31 8h0m-222 1h0m15 0h0m5 0h0m225 0h0m-229 2h0m225 0h0m-223 9h0m10 0h0m215 0h0m-224 2h0m218 1h0m8 6h0m-3 4h0"/>
<path d="M524.5 195.5h0m-8 4h0m-213 4h0m225 0h0m25 5h0m-256 3h0m190 0h0m-7 1h0m20 0h0m-232 1h0m20 0h0m15 0h0m120 0h0m105 0h0m-287 1h0m65 0h0m5 0h0m225 0h0m-287 1h0m225 0h0m-207 1h0m50 0h0m10 0h0m-222 1h0m5 0h0m145 0h0m225 0h0m-236 3h0m20 0h0m40 0h0m10 0h0m160 0h0m15 0h0m40 0h0m10 0h0m-432 1h0m225 0h0m200 0h0m-287 1h0m5 0h0m245 0h0m-202 1h0m185 0h0m40 0h0m-272 1h0m55 0h0m25 0h0m130 0h0m15 0h0m-352 1h0m155 0h0m40 0h0m30 0h0m-97 1h0m225 0h0m10 0h0m43 1h0m8 1h0m-282 1h0m275 0h0m-257 1h0m270 0h0m-247 1h0m20 0h0m10 0h0m180 0h0m15 0h0m20 0h0m10 0h0m-232 1h0m145 0h0m25 0h0m-362 1h0m105 0h0m225 0h0m70 0h0m15 0h0m5 0h0m-312 1h0m55 0h0m170 0h0m-347 1h0m20 0h0m200 0h0m5 0h0m130 0h0m85 0h0m-327 1h0m5 0h0m10 0h0m210 0h0m-337 1h0m155 0h0m70 0h0m140 0h0m15 0h0m15 0h0m40 0h0m-222 1h0m40 0h0m135 0h0m25 0h0m20 0h0m-422 1h0m3 1h0m210 0h0m-82 1h0m215 0h0m-337 1h0m98 1h0m15 0h0m5 0h0m10 0h0m90 0h0m105 0h0m20 0h0m80 0h0m-442 1h0m365 0h0m-337 1h0m225 0h0m-237 1h0m5 0h0m5 0h0m205 0h0m15 0h0m5 0h0m85 0h0m20 0h0m-352 1h0m30 0h0m195 0h0m30 0h0m-22 1h0m-207 1h0m190 0h0m115 0h0m-67 1h0m-224 2h0m220 0h0m5 0h0m-77 1h0m225 0h0m-414 2h0m120 0h0m105 0h0m-127 1h0m-102 1h0m225 0h0m40 0h0m-217 1h0m225 0h0m58 1h0m-77 1h0m80 0h0m-287 1h0m205 0h0m20 0h0m53 1h0m-279 2h0m200 0h0m-202 1h0m3 1h0m225 0h0m-177 1h0m15 0h0m-22 1h0m16 2h0m10 0h0m215 0h0m-287 1h0m225 0h0m-164 2h0m225 0h0m-282 1h0m8 1h0m-22 1h0m65 0h0m160 0h0m65 0h0m15 0h0m-302 1h0m225 0h0m33 1h0m-212 1h0m-27 1h0m225 0h0m-209 2h0m230 0h0m23 1h0m-267 1h0m225 0h0m23 1h0m-252 1h0m225 0h0m-189 2h0m225 0h0m-232 1h0m233 1h0m-62 1h0m43 1h0m-229 2h0m230 0h0m-242 1h0m225 0h0m25 0h0m-247 1h0m225 0h0m-219 2h0m10 0h0m10 0h0m205 0h0m10 0h0m-227 1h0m224 3h0m25 0h0m-244 2h0m225 0h0m-212 1h0m-19 2h0m-2 1h0m213 16h0"/>
<path d="M292.5 204.5h0m-10 5h0m257 4h0m-224 2h0m185 10h0m-217 1h0m-32 1h0m285 0h0m-17 1h0m-399 17h0m247 4h0m16 12h0m-3 4h0m-238 4h0m225 0h0m-191 18h0m225 0h0m-236 8h0m225 0h0"/>
<path d="M518.5 204.5h0m-404 12h0m168 1h0m231 2h0m-164 2h0m-33 4h0m161 2h0m-137 1h0m-46 3h0m-177 1h0m378 1h0m-373 9h0m225 0h0m-1 3h0m1 7h0m-206 3h0m61 17h0m-26 23h0m11 7h0"/>
<path d="M291.5 208.5h0m17 9h0m-15 5h0m45 0h0m180 0h0m-397 1h0m118 1h0m303 1h0m-90 5h0m-109 2h0m166 2h0m-2 1h0m-176 8h0m-209 2h0m418 1h0m-319 12h0m-26 3h0m228 11h0m-4 7h0m-43 4h0m-192 6h0m221 2h0m-218 19h0m-12 6h0"/>
<path d="M311.5 231.5h0m12 4h0m-98 4h0m123 6h0m98 6h0m-309 7h0m81 2h0m149 3h0m-190 15h0m28 1h0m-17 6h0m-4 17h0m-4 2h0m225 0h0"/>
<path d="M303.5 213.5h0m225 0h0m-273 4h0m225 0h0m49 3h0m-283 4h0m271 7h0m20 0h0m10 0h0m-4 2h0m-96 3h0m-320 10h0m235 0h0m8 1h0m-256 8h0m98 1h0m-55 5h0m205 0h0m76 12h0m-274 2h0m268 1h0m-43 4h0m25 5h0m-252 1h0m2 9h0m9 3h0m20 0h0"/>
<path d="M165.5 295.5h0"/>
<path d="M117.5 232.5h0m5 10h0m225 0h0"/>
<path d="M239.5 224.5h0m104 8h0"/>
<path d="M343.5 232.5h0"/>
</g>
<path d="M103.5 427.5v5M159.5 427.5v5M215.5 427.5v5M272.5 427.5v5M328.5 427.5v5M384.5 427.5v5M441.5 427.5v5M497.5 427.5v5M553.5 427.5v5M80.5 392.5h-5M80.5 350.5h-5M80.5 308.5h-5M80.5 266.5h-5M80.5 225.5h-5M80.5 183.5h-5M80.5 141.5h-5M80.5 99.5h-5" stroke="#000" stroke-width="1.111" fill="none"/>
<path d="M80.5 57.94V428.06M576.5 57.94V428.06" stroke="#000" stroke-width="1.111" fill="none"/>
<path d="M80 58.5H577M80 427.5H577" stroke="#000" stroke-width="1" fill="none"/>
<path d="M80 57.5H577M82 59.5H576M82 426.5H576M80 428.5H577M75 391.5H80M75 393.5H80M75 349.5H80M75 351.5H80M75 307.5H80M75 309.5H80M75 265.5H80M75 267.5H80M75 224.5H80M75 226.5H80M75 182.5H80M75 184.5H80M75 140.5H80M75 142.5H80M75 98.5H80M75 100.5H80" stroke="#000" stroke-opacity=".055" stroke-width="1" fill="none"/>
<g class="t" text-anchor="middle">
<text x="102.05" y="448.48">−1.00</text>
<text x="157.91" y="448.48" letter-spacing="-0.1">−0.75</text>
<text x="215.27" y="448.48" letter-spacing="-0.1">−0.50</text>
<text x="271.14" y="448.48">−0.25</text>
<text x="328.5" y="448.48" letter-spacing="-0.3">0.00</text>
<text x="384.36" y="448.48" letter-spacing="-0.4">0.25</text>
<text x="440.73" y="448.48" letter-spacing="-0.3">0.50</text>
<text x="497.59" y="448.48" letter-spacing="-0.3">0.75</text>
<text x="553.45" y="448.48" letter-spacing="-0.4">1.00</text>
<text x="327" y="466.97" letter-spacing="-0.15">phase</text>
</g><g class="t" text-anchor="end">
<text x="69.78" y="397.82" letter-spacing="-0.2">8.5</text>
<text x="69.78" y="355.96" letter-spacing="-0.4">9.0</text>
<text x="69.78" y="313.61" letter-spacing="-0.4">9.5</text>
<text x="69.28" y="271.75" letter-spacing="-0.3">10.0</text>
<text x="69.28" y="229.89" letter-spacing="-0.3">10.5</text>
<text x="69.78" y="187.53" letter-spacing="-0.1">11.0</text>
<text x="69.78" y="145.68" letter-spacing="-0.2">11.5</text>
<text x="69.28" y="104.82" letter-spacing="-0.4">12.0</text>
</g>
<text class="t" text-anchor="middle" letter-spacing="-0.1" transform="translate(29.91 243.9) rotate(-90)">flux</text>
<text class="h" text-anchor="middle" letter-spacing="-0.04" transform="translate(328 48.77) scale(1 1.08)">1SWASPJ074049.01-445435.3 Period 11520.08008s</text>
</svg></body></html>
